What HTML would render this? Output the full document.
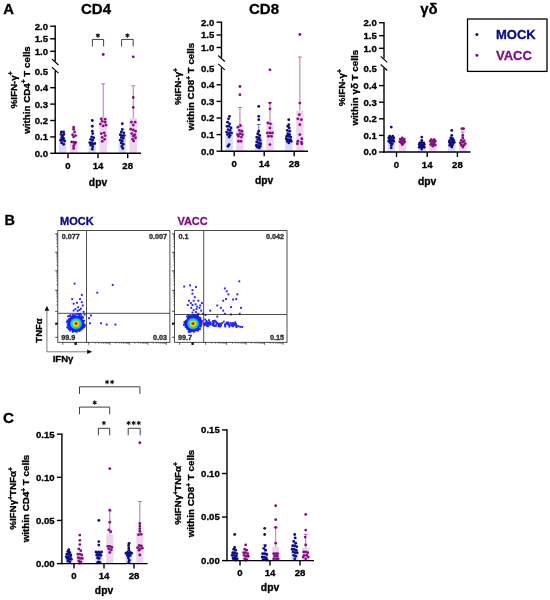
<!DOCTYPE html>
<html lang="en">
<head>
<meta charset="utf-8">
<title>Figure</title>
<style>
html,body{margin:0;padding:0;background:#fff;}
body{width:550px;height:600px;overflow:hidden;font-family:"Liberation Sans",sans-serif;}
svg{display:block;will-change:transform;}
svg text{font-family:"Liberation Sans",sans-serif;font-weight:bold;stroke-width:0.32px;stroke-linejoin:round;}
</style>
</head>
<body>
<svg width="550" height="600" viewBox="0 0 550 600">
<rect x="0" y="0" width="550" height="600" fill="#ffffff"/>
<rect x="59.00" y="139.36" width="7.20" height="13.94" fill="#dadaf5"/>
<circle cx="61.40" cy="131.98" r="1.42" fill="#0b0b84"/>
<circle cx="63.60" cy="131.98" r="1.42" fill="#0b0b84"/>
<circle cx="61.10" cy="134.44" r="1.42" fill="#0b0b84"/>
<circle cx="63.90" cy="134.44" r="1.42" fill="#0b0b84"/>
<circle cx="62.60" cy="136.08" r="1.42" fill="#0b0b84"/>
<circle cx="61.60" cy="137.72" r="1.42" fill="#0b0b84"/>
<circle cx="63.60" cy="138.54" r="1.42" fill="#0b0b84"/>
<circle cx="60.60" cy="140.18" r="1.42" fill="#0b0b84"/>
<circle cx="62.60" cy="140.18" r="1.42" fill="#0b0b84"/>
<circle cx="64.60" cy="141.00" r="1.42" fill="#0b0b84"/>
<circle cx="61.60" cy="142.64" r="1.42" fill="#0b0b84"/>
<circle cx="63.60" cy="144.28" r="1.42" fill="#0b0b84"/>
<rect x="70.00" y="141.00" width="7.30" height="12.30" fill="#edd6ed"/>
<circle cx="73.65" cy="127.06" r="1.42" fill="#860d86"/>
<circle cx="73.65" cy="129.19" r="1.42" fill="#860d86"/>
<circle cx="74.65" cy="131.98" r="1.42" fill="#860d86"/>
<circle cx="72.65" cy="134.77" r="1.42" fill="#860d86"/>
<circle cx="75.65" cy="135.59" r="1.42" fill="#860d86"/>
<circle cx="73.65" cy="136.90" r="1.42" fill="#860d86"/>
<circle cx="71.65" cy="141.82" r="1.42" fill="#860d86"/>
<circle cx="73.65" cy="142.15" r="1.42" fill="#860d86"/>
<circle cx="75.65" cy="142.48" r="1.42" fill="#860d86"/>
<circle cx="74.65" cy="143.79" r="1.42" fill="#860d86"/>
<circle cx="73.65" cy="145.92" r="1.42" fill="#860d86"/>
<circle cx="73.65" cy="148.38" r="1.42" fill="#860d86"/>
<rect x="88.70" y="141.82" width="7.20" height="11.48" fill="#dadaf5"/>
<circle cx="92.30" cy="120.50" r="1.42" fill="#0b0b84"/>
<circle cx="92.30" cy="126.24" r="1.42" fill="#0b0b84"/>
<circle cx="92.30" cy="131.16" r="1.42" fill="#0b0b84"/>
<circle cx="92.70" cy="133.62" r="1.42" fill="#0b0b84"/>
<circle cx="91.70" cy="136.90" r="1.42" fill="#0b0b84"/>
<circle cx="93.70" cy="137.72" r="1.42" fill="#0b0b84"/>
<circle cx="90.70" cy="139.36" r="1.42" fill="#0b0b84"/>
<circle cx="92.70" cy="140.18" r="1.42" fill="#0b0b84"/>
<circle cx="89.80" cy="142.64" r="1.42" fill="#0b0b84"/>
<circle cx="91.70" cy="142.64" r="1.42" fill="#0b0b84"/>
<circle cx="94.70" cy="143.46" r="1.42" fill="#0b0b84"/>
<circle cx="92.70" cy="144.28" r="1.42" fill="#0b0b84"/>
<circle cx="90.70" cy="145.10" r="1.42" fill="#0b0b84"/>
<circle cx="92.70" cy="146.74" r="1.42" fill="#0b0b84"/>
<circle cx="92.30" cy="149.20" r="1.42" fill="#0b0b84"/>
<rect x="99.50" y="118.04" width="7.40" height="35.26" fill="#edd6ed"/>
<line x1="103.20" y1="118.04" x2="103.20" y2="83.80" stroke="#a650a6" stroke-width="0.8" />
<line x1="101.20" y1="83.80" x2="105.20" y2="83.80" stroke="#a650a6" stroke-width="0.8" />
<circle cx="101.30" cy="118.86" r="1.42" fill="#860d86"/>
<circle cx="105.10" cy="119.19" r="1.42" fill="#860d86"/>
<circle cx="102.20" cy="121.32" r="1.42" fill="#860d86"/>
<circle cx="105.10" cy="122.14" r="1.42" fill="#860d86"/>
<circle cx="100.30" cy="124.11" r="1.42" fill="#860d86"/>
<circle cx="103.20" cy="125.91" r="1.42" fill="#860d86"/>
<circle cx="106.10" cy="125.09" r="1.42" fill="#860d86"/>
<circle cx="101.30" cy="133.62" r="1.42" fill="#860d86"/>
<circle cx="104.20" cy="132.80" r="1.42" fill="#860d86"/>
<circle cx="105.10" cy="135.59" r="1.42" fill="#860d86"/>
<circle cx="102.20" cy="137.39" r="1.42" fill="#860d86"/>
<circle cx="104.60" cy="139.36" r="1.42" fill="#860d86"/>
<circle cx="102.20" cy="141.33" r="1.42" fill="#860d86"/>
<circle cx="103.20" cy="54.50" r="1.42" fill="#860d86"/>
<rect x="118.70" y="138.54" width="7.20" height="14.76" fill="#dadaf5"/>
<circle cx="122.30" cy="123.78" r="1.42" fill="#0b0b84"/>
<circle cx="122.30" cy="129.52" r="1.42" fill="#0b0b84"/>
<circle cx="121.30" cy="131.98" r="1.42" fill="#0b0b84"/>
<circle cx="123.80" cy="132.80" r="1.42" fill="#0b0b84"/>
<circle cx="120.30" cy="134.77" r="1.42" fill="#0b0b84"/>
<circle cx="122.30" cy="135.59" r="1.42" fill="#0b0b84"/>
<circle cx="124.30" cy="135.59" r="1.42" fill="#0b0b84"/>
<circle cx="121.30" cy="137.39" r="1.42" fill="#0b0b84"/>
<circle cx="123.30" cy="138.21" r="1.42" fill="#0b0b84"/>
<circle cx="120.30" cy="140.18" r="1.42" fill="#0b0b84"/>
<circle cx="122.30" cy="141.00" r="1.42" fill="#0b0b84"/>
<circle cx="121.30" cy="142.97" r="1.42" fill="#0b0b84"/>
<circle cx="123.30" cy="144.28" r="1.42" fill="#0b0b84"/>
<circle cx="121.80" cy="146.41" r="1.42" fill="#0b0b84"/>
<circle cx="122.80" cy="148.38" r="1.42" fill="#0b0b84"/>
<rect x="129.50" y="118.04" width="7.50" height="35.26" fill="#edd6ed"/>
<line x1="133.25" y1="118.04" x2="133.25" y2="85.80" stroke="#a650a6" stroke-width="0.8" />
<line x1="131.25" y1="85.80" x2="135.25" y2="85.80" stroke="#a650a6" stroke-width="0.8" />
<circle cx="133.25" cy="97.54" r="1.42" fill="#860d86"/>
<circle cx="133.25" cy="107.38" r="1.42" fill="#860d86"/>
<circle cx="131.35" cy="122.14" r="1.42" fill="#860d86"/>
<circle cx="135.15" cy="122.14" r="1.42" fill="#860d86"/>
<circle cx="133.25" cy="125.09" r="1.42" fill="#860d86"/>
<circle cx="130.75" cy="129.19" r="1.42" fill="#860d86"/>
<circle cx="133.25" cy="130.01" r="1.42" fill="#860d86"/>
<circle cx="135.55" cy="131.16" r="1.42" fill="#860d86"/>
<circle cx="131.75" cy="133.62" r="1.42" fill="#860d86"/>
<circle cx="134.65" cy="134.77" r="1.42" fill="#860d86"/>
<circle cx="133.25" cy="136.08" r="1.42" fill="#860d86"/>
<circle cx="135.55" cy="137.72" r="1.42" fill="#860d86"/>
<circle cx="132.65" cy="139.36" r="1.42" fill="#860d86"/>
<circle cx="133.65" cy="141.00" r="1.42" fill="#860d86"/>
<circle cx="133.25" cy="56.80" r="1.42" fill="#860d86"/>
<line x1="55.20" y1="154.00" x2="55.20" y2="70.80" stroke="#000" stroke-width="1.4" />
<line x1="55.20" y1="61.20" x2="55.20" y2="25.50" stroke="#000" stroke-width="1.4" />
<line x1="51.90" y1="59.00" x2="58.50" y2="65.00" stroke="#000" stroke-width="1.1" />
<line x1="51.90" y1="67.20" x2="58.50" y2="73.20" stroke="#000" stroke-width="1.1" />
<line x1="54.50" y1="153.30" x2="141.00" y2="153.30" stroke="#000" stroke-width="1.4" />
<line x1="50.20" y1="153.30" x2="55.20" y2="153.30" stroke="#000" stroke-width="1.4" />
<text x="48.00" y="156.70" font-size="9.6" text-anchor="end" fill="#000" stroke="#000" >0.0</text>
<line x1="50.20" y1="136.90" x2="55.20" y2="136.90" stroke="#000" stroke-width="1.4" />
<text x="48.00" y="140.30" font-size="9.6" text-anchor="end" fill="#000" stroke="#000" >0.1</text>
<line x1="50.20" y1="120.50" x2="55.20" y2="120.50" stroke="#000" stroke-width="1.4" />
<text x="48.00" y="123.90" font-size="9.6" text-anchor="end" fill="#000" stroke="#000" >0.2</text>
<line x1="50.20" y1="104.10" x2="55.20" y2="104.10" stroke="#000" stroke-width="1.4" />
<text x="48.00" y="107.50" font-size="9.6" text-anchor="end" fill="#000" stroke="#000" >0.3</text>
<line x1="50.20" y1="87.70" x2="55.20" y2="87.70" stroke="#000" stroke-width="1.4" />
<text x="48.00" y="91.10" font-size="9.6" text-anchor="end" fill="#000" stroke="#000" >0.4</text>
<text x="48.00" y="74.70" font-size="9.6" text-anchor="end" fill="#000" stroke="#000" >0.5</text>
<line x1="50.20" y1="26.20" x2="55.20" y2="26.20" stroke="#000" stroke-width="1.4" />
<text x="48.00" y="29.60" font-size="9.6" text-anchor="end" fill="#000" stroke="#000" >2.0</text>
<line x1="50.20" y1="38.80" x2="55.20" y2="38.80" stroke="#000" stroke-width="1.4" />
<text x="48.00" y="42.20" font-size="9.6" text-anchor="end" fill="#000" stroke="#000" >1.5</text>
<line x1="50.20" y1="51.30" x2="55.20" y2="51.30" stroke="#000" stroke-width="1.4" />
<text x="48.00" y="54.70" font-size="9.6" text-anchor="end" fill="#000" stroke="#000" >1.0</text>
<line x1="68.00" y1="153.30" x2="68.00" y2="158.30" stroke="#000" stroke-width="1.4" />
<text x="68.00" y="169.20" font-size="9.6" text-anchor="middle" fill="#000" stroke="#000" >0</text>
<line x1="98.00" y1="153.30" x2="98.00" y2="158.30" stroke="#000" stroke-width="1.4" />
<text x="98.00" y="169.20" font-size="9.6" text-anchor="middle" fill="#000" stroke="#000" >14</text>
<line x1="127.70" y1="153.30" x2="127.70" y2="158.30" stroke="#000" stroke-width="1.4" />
<text x="127.70" y="169.20" font-size="9.6" text-anchor="middle" fill="#000" stroke="#000" >28</text>
<text x="98.00" y="186.10" font-size="10.3" text-anchor="middle" fill="#000" stroke="#000" >dpv</text>
<text x="96.00" y="13.60" font-size="15" text-anchor="middle" fill="#000" stroke="#000" >CD4</text>
<text transform="translate(16.50,90.00) rotate(-90)" font-size="9.8" text-anchor="middle" stroke="#000">%IFN-&#947;<tspan font-size="6.5" dy="-3.4">+</tspan></text>
<text transform="translate(29.50,90.00) rotate(-90)" font-size="9.8" text-anchor="middle" stroke="#000">within CD4<tspan font-size="6.5" dy="-3.4">+</tspan><tspan dy="3.4"> T cells</tspan></text>
<path d="M92.40,46.50 V39.40 H103.60 V46.50" fill="none" stroke="#2a2a2a" stroke-width="0.9"/>
<path d="M97.90,33.65L97.90,37.15M96.38,34.52L99.42,36.27M99.42,34.52L96.38,36.27" stroke="#111" stroke-width="1.05" stroke-linecap="round" fill="none"/>
<circle cx="97.90" cy="35.40" r="1.0" fill="#111"/>
<path d="M121.60,46.50 V39.40 H133.20 V46.50" fill="none" stroke="#2a2a2a" stroke-width="0.9"/>
<path d="M127.40,33.65L127.40,37.15M125.88,34.52L128.92,36.27M128.92,34.52L125.88,36.27" stroke="#111" stroke-width="1.05" stroke-linecap="round" fill="none"/>
<circle cx="127.40" cy="35.40" r="1.0" fill="#111"/>
<rect x="225.30" y="132.11" width="7.50" height="19.09" fill="#dadaf5"/>
<circle cx="229.55" cy="116.34" r="1.42" fill="#0b0b84"/>
<circle cx="228.55" cy="118.83" r="1.42" fill="#0b0b84"/>
<circle cx="227.55" cy="122.15" r="1.42" fill="#0b0b84"/>
<circle cx="229.55" cy="123.81" r="1.42" fill="#0b0b84"/>
<circle cx="227.05" cy="126.30" r="1.42" fill="#0b0b84"/>
<circle cx="229.05" cy="126.30" r="1.42" fill="#0b0b84"/>
<circle cx="231.05" cy="127.96" r="1.42" fill="#0b0b84"/>
<circle cx="228.05" cy="129.62" r="1.42" fill="#0b0b84"/>
<circle cx="230.05" cy="130.45" r="1.42" fill="#0b0b84"/>
<circle cx="226.55" cy="132.11" r="1.42" fill="#0b0b84"/>
<circle cx="229.05" cy="132.94" r="1.42" fill="#0b0b84"/>
<circle cx="231.55" cy="132.94" r="1.42" fill="#0b0b84"/>
<circle cx="227.55" cy="134.60" r="1.42" fill="#0b0b84"/>
<circle cx="230.05" cy="135.43" r="1.42" fill="#0b0b84"/>
<circle cx="229.05" cy="137.09" r="1.42" fill="#0b0b84"/>
<circle cx="229.05" cy="144.56" r="1.42" fill="#0b0b84"/>
<circle cx="228.05" cy="146.22" r="1.42" fill="#0b0b84"/>
<rect x="236.20" y="125.47" width="7.50" height="25.73" fill="#edd6ed"/>
<line x1="239.95" y1="125.47" x2="239.95" y2="107.50" stroke="#a650a6" stroke-width="0.8" />
<line x1="237.95" y1="107.50" x2="241.95" y2="107.50" stroke="#a650a6" stroke-width="0.8" />
<circle cx="239.95" cy="86.46" r="1.42" fill="#860d86"/>
<circle cx="239.95" cy="94.76" r="1.42" fill="#860d86"/>
<circle cx="240.45" cy="125.47" r="1.42" fill="#860d86"/>
<circle cx="237.95" cy="127.13" r="1.42" fill="#860d86"/>
<circle cx="239.45" cy="130.45" r="1.42" fill="#860d86"/>
<circle cx="241.95" cy="131.28" r="1.42" fill="#860d86"/>
<circle cx="237.45" cy="134.60" r="1.42" fill="#860d86"/>
<circle cx="239.95" cy="133.77" r="1.42" fill="#860d86"/>
<circle cx="242.45" cy="134.60" r="1.42" fill="#860d86"/>
<circle cx="238.45" cy="136.26" r="1.42" fill="#860d86"/>
<circle cx="241.45" cy="137.09" r="1.42" fill="#860d86"/>
<circle cx="238.45" cy="141.24" r="1.42" fill="#860d86"/>
<circle cx="240.95" cy="141.24" r="1.42" fill="#860d86"/>
<rect x="255.00" y="137.09" width="7.50" height="14.11" fill="#dadaf5"/>
<line x1="258.75" y1="137.09" x2="258.75" y2="124.50" stroke="#4a4aa8" stroke-width="0.8" />
<line x1="256.75" y1="124.50" x2="260.75" y2="124.50" stroke="#4a4aa8" stroke-width="0.8" />
<circle cx="258.75" cy="106.38" r="1.42" fill="#0b0b84"/>
<circle cx="258.75" cy="116.34" r="1.42" fill="#0b0b84"/>
<circle cx="258.75" cy="119.66" r="1.42" fill="#0b0b84"/>
<circle cx="258.75" cy="131.28" r="1.42" fill="#0b0b84"/>
<circle cx="257.75" cy="133.77" r="1.42" fill="#0b0b84"/>
<circle cx="259.75" cy="135.43" r="1.42" fill="#0b0b84"/>
<circle cx="256.75" cy="137.09" r="1.42" fill="#0b0b84"/>
<circle cx="259.25" cy="137.92" r="1.42" fill="#0b0b84"/>
<circle cx="257.75" cy="139.58" r="1.42" fill="#0b0b84"/>
<circle cx="260.25" cy="140.41" r="1.42" fill="#0b0b84"/>
<circle cx="256.75" cy="142.07" r="1.42" fill="#0b0b84"/>
<circle cx="258.75" cy="142.90" r="1.42" fill="#0b0b84"/>
<circle cx="260.75" cy="143.73" r="1.42" fill="#0b0b84"/>
<circle cx="256.25" cy="145.39" r="1.42" fill="#0b0b84"/>
<circle cx="258.25" cy="145.39" r="1.42" fill="#0b0b84"/>
<circle cx="260.25" cy="146.22" r="1.42" fill="#0b0b84"/>
<circle cx="257.25" cy="147.05" r="1.42" fill="#0b0b84"/>
<circle cx="259.25" cy="147.88" r="1.42" fill="#0b0b84"/>
<rect x="266.20" y="122.98" width="7.50" height="28.22" fill="#edd6ed"/>
<line x1="269.95" y1="122.98" x2="269.95" y2="102.50" stroke="#a650a6" stroke-width="0.8" />
<line x1="267.95" y1="102.50" x2="271.95" y2="102.50" stroke="#a650a6" stroke-width="0.8" />
<circle cx="269.95" cy="69.86" r="1.42" fill="#860d86"/>
<circle cx="269.95" cy="103.06" r="1.42" fill="#860d86"/>
<circle cx="269.95" cy="108.87" r="1.42" fill="#860d86"/>
<circle cx="267.95" cy="122.98" r="1.42" fill="#860d86"/>
<circle cx="270.45" cy="123.81" r="1.42" fill="#860d86"/>
<circle cx="269.95" cy="127.96" r="1.42" fill="#860d86"/>
<circle cx="267.45" cy="132.94" r="1.42" fill="#860d86"/>
<circle cx="269.95" cy="132.94" r="1.42" fill="#860d86"/>
<circle cx="272.45" cy="132.94" r="1.42" fill="#860d86"/>
<circle cx="268.45" cy="136.26" r="1.42" fill="#860d86"/>
<circle cx="271.45" cy="136.26" r="1.42" fill="#860d86"/>
<circle cx="269.95" cy="144.56" r="1.42" fill="#860d86"/>
<rect x="285.00" y="137.09" width="7.50" height="14.11" fill="#dadaf5"/>
<circle cx="288.75" cy="119.66" r="1.42" fill="#0b0b84"/>
<circle cx="288.75" cy="124.64" r="1.42" fill="#0b0b84"/>
<circle cx="287.75" cy="126.30" r="1.42" fill="#0b0b84"/>
<circle cx="289.25" cy="127.96" r="1.42" fill="#0b0b84"/>
<circle cx="287.25" cy="130.45" r="1.42" fill="#0b0b84"/>
<circle cx="289.75" cy="131.28" r="1.42" fill="#0b0b84"/>
<circle cx="287.75" cy="133.77" r="1.42" fill="#0b0b84"/>
<circle cx="289.75" cy="134.60" r="1.42" fill="#0b0b84"/>
<circle cx="286.75" cy="136.26" r="1.42" fill="#0b0b84"/>
<circle cx="288.75" cy="136.26" r="1.42" fill="#0b0b84"/>
<circle cx="290.75" cy="137.09" r="1.42" fill="#0b0b84"/>
<circle cx="286.25" cy="138.75" r="1.42" fill="#0b0b84"/>
<circle cx="288.25" cy="139.58" r="1.42" fill="#0b0b84"/>
<circle cx="290.25" cy="139.58" r="1.42" fill="#0b0b84"/>
<circle cx="287.25" cy="141.24" r="1.42" fill="#0b0b84"/>
<circle cx="289.25" cy="141.24" r="1.42" fill="#0b0b84"/>
<circle cx="291.25" cy="141.24" r="1.42" fill="#0b0b84"/>
<circle cx="288.75" cy="142.90" r="1.42" fill="#0b0b84"/>
<rect x="296.20" y="110.53" width="7.30" height="40.67" fill="#edd6ed"/>
<line x1="299.85" y1="110.53" x2="299.85" y2="57.00" stroke="#a650a6" stroke-width="0.8" />
<line x1="297.85" y1="57.00" x2="301.85" y2="57.00" stroke="#a650a6" stroke-width="0.8" />
<circle cx="299.85" cy="103.06" r="1.42" fill="#860d86"/>
<circle cx="299.35" cy="114.68" r="1.42" fill="#860d86"/>
<circle cx="297.85" cy="118.83" r="1.42" fill="#860d86"/>
<circle cx="301.35" cy="119.66" r="1.42" fill="#860d86"/>
<circle cx="299.85" cy="124.64" r="1.42" fill="#860d86"/>
<circle cx="299.85" cy="134.60" r="1.42" fill="#860d86"/>
<circle cx="301.85" cy="138.75" r="1.42" fill="#860d86"/>
<circle cx="297.85" cy="141.24" r="1.42" fill="#860d86"/>
<circle cx="301.35" cy="142.07" r="1.42" fill="#860d86"/>
<circle cx="297.35" cy="143.73" r="1.42" fill="#860d86"/>
<circle cx="301.85" cy="143.73" r="1.42" fill="#860d86"/>
<circle cx="299.85" cy="34.50" r="1.42" fill="#860d86"/>
<line x1="221.50" y1="151.90" x2="221.50" y2="67.50" stroke="#000" stroke-width="1.4" />
<line x1="221.50" y1="57.70" x2="221.50" y2="21.50" stroke="#000" stroke-width="1.4" />
<line x1="218.20" y1="55.50" x2="224.80" y2="61.50" stroke="#000" stroke-width="1.1" />
<line x1="218.20" y1="63.90" x2="224.80" y2="69.90" stroke="#000" stroke-width="1.1" />
<line x1="220.80" y1="151.20" x2="308.00" y2="151.20" stroke="#000" stroke-width="1.4" />
<line x1="216.50" y1="151.20" x2="221.50" y2="151.20" stroke="#000" stroke-width="1.4" />
<text x="214.30" y="154.60" font-size="9.6" text-anchor="end" fill="#000" stroke="#000" >0.0</text>
<line x1="216.50" y1="134.60" x2="221.50" y2="134.60" stroke="#000" stroke-width="1.4" />
<text x="214.30" y="138.00" font-size="9.6" text-anchor="end" fill="#000" stroke="#000" >0.1</text>
<line x1="216.50" y1="118.00" x2="221.50" y2="118.00" stroke="#000" stroke-width="1.4" />
<text x="214.30" y="121.40" font-size="9.6" text-anchor="end" fill="#000" stroke="#000" >0.2</text>
<line x1="216.50" y1="101.40" x2="221.50" y2="101.40" stroke="#000" stroke-width="1.4" />
<text x="214.30" y="104.80" font-size="9.6" text-anchor="end" fill="#000" stroke="#000" >0.3</text>
<line x1="216.50" y1="84.80" x2="221.50" y2="84.80" stroke="#000" stroke-width="1.4" />
<text x="214.30" y="88.20" font-size="9.6" text-anchor="end" fill="#000" stroke="#000" >0.4</text>
<text x="214.30" y="71.60" font-size="9.6" text-anchor="end" fill="#000" stroke="#000" >0.5</text>
<line x1="216.50" y1="22.20" x2="221.50" y2="22.20" stroke="#000" stroke-width="1.4" />
<text x="214.30" y="25.60" font-size="9.6" text-anchor="end" fill="#000" stroke="#000" >2.0</text>
<line x1="216.50" y1="35.00" x2="221.50" y2="35.00" stroke="#000" stroke-width="1.4" />
<text x="214.30" y="38.40" font-size="9.6" text-anchor="end" fill="#000" stroke="#000" >1.5</text>
<line x1="216.50" y1="47.50" x2="221.50" y2="47.50" stroke="#000" stroke-width="1.4" />
<text x="214.30" y="50.90" font-size="9.6" text-anchor="end" fill="#000" stroke="#000" >1.0</text>
<line x1="234.20" y1="151.20" x2="234.20" y2="156.20" stroke="#000" stroke-width="1.4" />
<text x="234.20" y="167.10" font-size="9.6" text-anchor="middle" fill="#000" stroke="#000" >0</text>
<line x1="264.20" y1="151.20" x2="264.20" y2="156.20" stroke="#000" stroke-width="1.4" />
<text x="264.20" y="167.10" font-size="9.6" text-anchor="middle" fill="#000" stroke="#000" >14</text>
<line x1="294.20" y1="151.20" x2="294.20" y2="156.20" stroke="#000" stroke-width="1.4" />
<text x="294.20" y="167.10" font-size="9.6" text-anchor="middle" fill="#000" stroke="#000" >28</text>
<text x="264.20" y="184.00" font-size="10.3" text-anchor="middle" fill="#000" stroke="#000" >dpv</text>
<text x="264.00" y="13.60" font-size="15" text-anchor="middle" fill="#000" stroke="#000" >CD8</text>
<text transform="translate(181.00,86.60) rotate(-90)" font-size="9.8" text-anchor="middle" stroke="#000">%IFN-&#947;<tspan font-size="6.5" dy="-3.4">+</tspan></text>
<text transform="translate(194.40,86.60) rotate(-90)" font-size="9.8" text-anchor="middle" stroke="#000">within CD8<tspan font-size="6.5" dy="-3.4">+</tspan><tspan dy="3.4"> T cells</tspan></text>
<rect x="387.50" y="139.55" width="7.50" height="12.45" fill="#dadaf5"/>
<circle cx="391.25" cy="127.10" r="1.42" fill="#0b0b84"/>
<circle cx="389.75" cy="136.23" r="1.42" fill="#0b0b84"/>
<circle cx="392.75" cy="136.23" r="1.42" fill="#0b0b84"/>
<circle cx="388.75" cy="137.89" r="1.42" fill="#0b0b84"/>
<circle cx="391.25" cy="137.89" r="1.42" fill="#0b0b84"/>
<circle cx="393.75" cy="137.89" r="1.42" fill="#0b0b84"/>
<circle cx="389.75" cy="139.55" r="1.42" fill="#0b0b84"/>
<circle cx="392.75" cy="139.55" r="1.42" fill="#0b0b84"/>
<circle cx="388.75" cy="141.21" r="1.42" fill="#0b0b84"/>
<circle cx="391.25" cy="141.21" r="1.42" fill="#0b0b84"/>
<circle cx="393.75" cy="141.21" r="1.42" fill="#0b0b84"/>
<circle cx="390.25" cy="142.87" r="1.42" fill="#0b0b84"/>
<circle cx="392.25" cy="143.70" r="1.42" fill="#0b0b84"/>
<circle cx="391.25" cy="145.36" r="1.42" fill="#0b0b84"/>
<circle cx="391.25" cy="147.85" r="1.42" fill="#0b0b84"/>
<rect x="398.50" y="141.21" width="7.50" height="10.79" fill="#edd6ed"/>
<circle cx="402.25" cy="137.89" r="1.42" fill="#860d86"/>
<circle cx="400.25" cy="139.05" r="1.42" fill="#860d86"/>
<circle cx="404.25" cy="139.05" r="1.42" fill="#860d86"/>
<circle cx="401.25" cy="140.38" r="1.42" fill="#860d86"/>
<circle cx="403.25" cy="140.38" r="1.42" fill="#860d86"/>
<circle cx="399.75" cy="141.71" r="1.42" fill="#860d86"/>
<circle cx="402.25" cy="141.71" r="1.42" fill="#860d86"/>
<circle cx="404.75" cy="141.71" r="1.42" fill="#860d86"/>
<circle cx="401.25" cy="142.87" r="1.42" fill="#860d86"/>
<circle cx="403.25" cy="143.37" r="1.42" fill="#860d86"/>
<circle cx="402.25" cy="144.53" r="1.42" fill="#860d86"/>
<rect x="418.00" y="145.36" width="7.50" height="6.64" fill="#dadaf5"/>
<circle cx="421.75" cy="137.06" r="1.42" fill="#0b0b84"/>
<circle cx="421.75" cy="140.38" r="1.42" fill="#0b0b84"/>
<circle cx="419.75" cy="142.87" r="1.42" fill="#0b0b84"/>
<circle cx="421.75" cy="142.37" r="1.42" fill="#0b0b84"/>
<circle cx="423.75" cy="142.87" r="1.42" fill="#0b0b84"/>
<circle cx="419.25" cy="144.53" r="1.42" fill="#0b0b84"/>
<circle cx="421.75" cy="144.53" r="1.42" fill="#0b0b84"/>
<circle cx="424.25" cy="144.53" r="1.42" fill="#0b0b84"/>
<circle cx="420.25" cy="146.19" r="1.42" fill="#0b0b84"/>
<circle cx="423.25" cy="146.19" r="1.42" fill="#0b0b84"/>
<circle cx="419.25" cy="147.35" r="1.42" fill="#0b0b84"/>
<circle cx="421.75" cy="147.35" r="1.42" fill="#0b0b84"/>
<circle cx="424.25" cy="147.35" r="1.42" fill="#0b0b84"/>
<circle cx="421.75" cy="149.01" r="1.42" fill="#0b0b84"/>
<rect x="429.00" y="143.70" width="7.50" height="8.30" fill="#edd6ed"/>
<circle cx="431.25" cy="139.55" r="1.42" fill="#860d86"/>
<circle cx="434.25" cy="139.55" r="1.42" fill="#860d86"/>
<circle cx="430.25" cy="141.21" r="1.42" fill="#860d86"/>
<circle cx="432.75" cy="140.71" r="1.42" fill="#860d86"/>
<circle cx="435.25" cy="141.21" r="1.42" fill="#860d86"/>
<circle cx="431.75" cy="142.87" r="1.42" fill="#860d86"/>
<circle cx="434.25" cy="142.87" r="1.42" fill="#860d86"/>
<circle cx="430.75" cy="144.53" r="1.42" fill="#860d86"/>
<circle cx="433.25" cy="144.53" r="1.42" fill="#860d86"/>
<circle cx="435.25" cy="145.03" r="1.42" fill="#860d86"/>
<circle cx="432.75" cy="146.19" r="1.42" fill="#860d86"/>
<rect x="448.00" y="142.04" width="7.50" height="9.96" fill="#dadaf5"/>
<circle cx="451.75" cy="130.42" r="1.42" fill="#0b0b84"/>
<circle cx="451.75" cy="135.40" r="1.42" fill="#0b0b84"/>
<circle cx="450.75" cy="137.89" r="1.42" fill="#0b0b84"/>
<circle cx="452.75" cy="138.72" r="1.42" fill="#0b0b84"/>
<circle cx="449.75" cy="140.38" r="1.42" fill="#0b0b84"/>
<circle cx="451.75" cy="140.38" r="1.42" fill="#0b0b84"/>
<circle cx="453.75" cy="140.38" r="1.42" fill="#0b0b84"/>
<circle cx="449.25" cy="142.04" r="1.42" fill="#0b0b84"/>
<circle cx="451.75" cy="142.04" r="1.42" fill="#0b0b84"/>
<circle cx="454.25" cy="142.37" r="1.42" fill="#0b0b84"/>
<circle cx="450.25" cy="143.70" r="1.42" fill="#0b0b84"/>
<circle cx="452.75" cy="143.70" r="1.42" fill="#0b0b84"/>
<circle cx="449.75" cy="145.36" r="1.42" fill="#0b0b84"/>
<circle cx="452.25" cy="145.36" r="1.42" fill="#0b0b84"/>
<circle cx="451.75" cy="147.02" r="1.42" fill="#0b0b84"/>
<rect x="459.00" y="142.04" width="7.50" height="9.96" fill="#edd6ed"/>
<line x1="462.75" y1="142.04" x2="462.75" y2="132.00" stroke="#a650a6" stroke-width="0.8" />
<line x1="460.75" y1="132.00" x2="464.75" y2="132.00" stroke="#a650a6" stroke-width="0.8" />
<circle cx="461.95" cy="128.76" r="1.42" fill="#860d86"/>
<circle cx="463.55" cy="128.76" r="1.42" fill="#860d86"/>
<circle cx="462.75" cy="135.40" r="1.42" fill="#860d86"/>
<circle cx="462.75" cy="137.89" r="1.42" fill="#860d86"/>
<circle cx="461.25" cy="140.38" r="1.42" fill="#860d86"/>
<circle cx="464.25" cy="140.71" r="1.42" fill="#860d86"/>
<circle cx="460.25" cy="142.87" r="1.42" fill="#860d86"/>
<circle cx="462.75" cy="142.37" r="1.42" fill="#860d86"/>
<circle cx="465.25" cy="143.70" r="1.42" fill="#860d86"/>
<circle cx="461.25" cy="145.03" r="1.42" fill="#860d86"/>
<circle cx="463.75" cy="145.36" r="1.42" fill="#860d86"/>
<circle cx="462.75" cy="147.02" r="1.42" fill="#860d86"/>
<line x1="384.00" y1="152.70" x2="384.00" y2="68.10" stroke="#000" stroke-width="1.4" />
<line x1="384.00" y1="58.50" x2="384.00" y2="22.00" stroke="#000" stroke-width="1.4" />
<line x1="380.70" y1="56.30" x2="387.30" y2="62.30" stroke="#000" stroke-width="1.1" />
<line x1="380.70" y1="64.50" x2="387.30" y2="70.50" stroke="#000" stroke-width="1.1" />
<line x1="383.30" y1="152.00" x2="470.50" y2="152.00" stroke="#000" stroke-width="1.4" />
<line x1="379.00" y1="152.00" x2="384.00" y2="152.00" stroke="#000" stroke-width="1.4" />
<text x="376.80" y="155.40" font-size="9.6" text-anchor="end" fill="#000" stroke="#000" >0.0</text>
<line x1="379.00" y1="135.40" x2="384.00" y2="135.40" stroke="#000" stroke-width="1.4" />
<text x="376.80" y="138.80" font-size="9.6" text-anchor="end" fill="#000" stroke="#000" >0.1</text>
<line x1="379.00" y1="118.80" x2="384.00" y2="118.80" stroke="#000" stroke-width="1.4" />
<text x="376.80" y="122.20" font-size="9.6" text-anchor="end" fill="#000" stroke="#000" >0.2</text>
<line x1="379.00" y1="102.20" x2="384.00" y2="102.20" stroke="#000" stroke-width="1.4" />
<text x="376.80" y="105.60" font-size="9.6" text-anchor="end" fill="#000" stroke="#000" >0.3</text>
<line x1="379.00" y1="85.60" x2="384.00" y2="85.60" stroke="#000" stroke-width="1.4" />
<text x="376.80" y="89.00" font-size="9.6" text-anchor="end" fill="#000" stroke="#000" >0.4</text>
<text x="376.80" y="72.40" font-size="9.6" text-anchor="end" fill="#000" stroke="#000" >0.5</text>
<line x1="379.00" y1="22.70" x2="384.00" y2="22.70" stroke="#000" stroke-width="1.4" />
<text x="376.80" y="26.10" font-size="9.6" text-anchor="end" fill="#000" stroke="#000" >2.0</text>
<line x1="379.00" y1="35.70" x2="384.00" y2="35.70" stroke="#000" stroke-width="1.4" />
<text x="376.80" y="39.10" font-size="9.6" text-anchor="end" fill="#000" stroke="#000" >1.5</text>
<line x1="379.00" y1="48.30" x2="384.00" y2="48.30" stroke="#000" stroke-width="1.4" />
<text x="376.80" y="51.70" font-size="9.6" text-anchor="end" fill="#000" stroke="#000" >1.0</text>
<line x1="396.50" y1="152.00" x2="396.50" y2="157.00" stroke="#000" stroke-width="1.4" />
<text x="396.50" y="167.90" font-size="9.6" text-anchor="middle" fill="#000" stroke="#000" >0</text>
<line x1="427.20" y1="152.00" x2="427.20" y2="157.00" stroke="#000" stroke-width="1.4" />
<text x="427.20" y="167.90" font-size="9.6" text-anchor="middle" fill="#000" stroke="#000" >14</text>
<line x1="457.40" y1="152.00" x2="457.40" y2="157.00" stroke="#000" stroke-width="1.4" />
<text x="457.40" y="167.90" font-size="9.6" text-anchor="middle" fill="#000" stroke="#000" >28</text>
<text x="427.20" y="184.80" font-size="10.3" text-anchor="middle" fill="#000" stroke="#000" >dpv</text>
<text x="429.00" y="13.60" font-size="15" text-anchor="middle" fill="#000" stroke="#000" >&#947;&#948;</text>
<text transform="translate(345.00,87.70) rotate(-90)" font-size="9.8" text-anchor="middle" stroke="#000">%IFN-&#947;<tspan font-size="6.5" dy="-3.4">+</tspan></text>
<text transform="translate(357.50,87.70) rotate(-90)" font-size="9.8" text-anchor="middle" stroke="#000">within &#947;&#948; T cells</text>
<text x="3.20" y="13.90" font-size="14.8" text-anchor="start" fill="#000" stroke="#000" >A</text>
<text x="4.40" y="225.20" font-size="14.4" text-anchor="start" fill="#000" stroke="#000" >B</text>
<text x="3.00" y="423.10" font-size="15.2" text-anchor="start" fill="#000" stroke="#000" >C</text>
<rect x="467.5" y="19" width="79.5" height="52.4" fill="#fff" stroke="#000" stroke-width="1.3"/>
<circle cx="476.90" cy="34.50" r="1.5" fill="#0b0b84"/>
<circle cx="476.90" cy="55.30" r="1.5" fill="#860d86"/>
<text x="496.00" y="39.10" font-size="13" text-anchor="start" fill="#0b0b84" stroke="#0b0b84" >MOCK</text>
<text x="496.00" y="59.90" font-size="13" text-anchor="start" fill="#860d86" stroke="#860d86" >VACC</text>
<rect x="65.30" y="556.70" width="7.00" height="6.90" fill="#dadaf5"/>
<circle cx="68.80" cy="549.79" r="1.42" fill="#0b0b84"/>
<circle cx="67.80" cy="551.52" r="1.42" fill="#0b0b84"/>
<circle cx="69.80" cy="552.38" r="1.42" fill="#0b0b84"/>
<circle cx="66.80" cy="554.11" r="1.42" fill="#0b0b84"/>
<circle cx="68.80" cy="554.11" r="1.42" fill="#0b0b84"/>
<circle cx="70.80" cy="554.97" r="1.42" fill="#0b0b84"/>
<circle cx="66.30" cy="556.70" r="1.42" fill="#0b0b84"/>
<circle cx="68.30" cy="556.70" r="1.42" fill="#0b0b84"/>
<circle cx="70.30" cy="556.70" r="1.42" fill="#0b0b84"/>
<circle cx="67.30" cy="558.42" r="1.42" fill="#0b0b84"/>
<circle cx="69.30" cy="559.28" r="1.42" fill="#0b0b84"/>
<circle cx="71.30" cy="559.28" r="1.42" fill="#0b0b84"/>
<circle cx="67.80" cy="561.01" r="1.42" fill="#0b0b84"/>
<circle cx="69.80" cy="561.87" r="1.42" fill="#0b0b84"/>
<rect x="76.30" y="554.11" width="7.00" height="9.49" fill="#edd6ed"/>
<circle cx="79.80" cy="535.12" r="1.42" fill="#860d86"/>
<circle cx="79.80" cy="540.30" r="1.42" fill="#860d86"/>
<circle cx="79.80" cy="544.61" r="1.42" fill="#860d86"/>
<circle cx="78.80" cy="548.93" r="1.42" fill="#860d86"/>
<circle cx="80.80" cy="550.65" r="1.42" fill="#860d86"/>
<circle cx="77.80" cy="554.11" r="1.42" fill="#860d86"/>
<circle cx="79.80" cy="554.11" r="1.42" fill="#860d86"/>
<circle cx="81.80" cy="554.97" r="1.42" fill="#860d86"/>
<circle cx="78.30" cy="557.56" r="1.42" fill="#860d86"/>
<circle cx="80.30" cy="558.42" r="1.42" fill="#860d86"/>
<circle cx="82.30" cy="558.42" r="1.42" fill="#860d86"/>
<circle cx="78.80" cy="561.01" r="1.42" fill="#860d86"/>
<circle cx="80.80" cy="561.87" r="1.42" fill="#860d86"/>
<circle cx="79.80" cy="563.17" r="1.42" fill="#860d86"/>
<rect x="95.30" y="552.38" width="7.00" height="11.22" fill="#dadaf5"/>
<circle cx="98.80" cy="520.45" r="1.42" fill="#0b0b84"/>
<circle cx="98.80" cy="541.59" r="1.42" fill="#0b0b84"/>
<circle cx="98.80" cy="545.05" r="1.42" fill="#0b0b84"/>
<circle cx="96.00" cy="551.95" r="1.42" fill="#0b0b84"/>
<circle cx="97.40" cy="552.81" r="1.42" fill="#0b0b84"/>
<circle cx="98.80" cy="551.95" r="1.42" fill="#0b0b84"/>
<circle cx="100.20" cy="552.81" r="1.42" fill="#0b0b84"/>
<circle cx="101.60" cy="551.95" r="1.42" fill="#0b0b84"/>
<circle cx="96.70" cy="554.97" r="1.42" fill="#0b0b84"/>
<circle cx="98.10" cy="555.40" r="1.42" fill="#0b0b84"/>
<circle cx="99.50" cy="554.97" r="1.42" fill="#0b0b84"/>
<circle cx="100.90" cy="555.40" r="1.42" fill="#0b0b84"/>
<circle cx="97.60" cy="557.99" r="1.42" fill="#0b0b84"/>
<circle cx="99.20" cy="558.42" r="1.42" fill="#0b0b84"/>
<circle cx="98.80" cy="561.87" r="1.42" fill="#0b0b84"/>
<circle cx="97.60" cy="562.74" r="1.42" fill="#0b0b84"/>
<circle cx="100.00" cy="562.74" r="1.42" fill="#0b0b84"/>
<rect x="106.30" y="534.26" width="7.00" height="29.34" fill="#edd6ed"/>
<line x1="109.80" y1="534.26" x2="109.80" y2="510.96" stroke="#a650a6" stroke-width="0.8" />
<line x1="107.80" y1="510.96" x2="111.80" y2="510.96" stroke="#a650a6" stroke-width="0.8" />
<circle cx="109.80" cy="468.67" r="1.42" fill="#860d86"/>
<circle cx="109.80" cy="510.09" r="1.42" fill="#860d86"/>
<circle cx="109.80" cy="522.18" r="1.42" fill="#860d86"/>
<circle cx="108.80" cy="529.94" r="1.42" fill="#860d86"/>
<circle cx="110.80" cy="531.67" r="1.42" fill="#860d86"/>
<circle cx="107.80" cy="546.34" r="1.42" fill="#860d86"/>
<circle cx="109.80" cy="546.34" r="1.42" fill="#860d86"/>
<circle cx="111.80" cy="547.20" r="1.42" fill="#860d86"/>
<circle cx="108.80" cy="548.93" r="1.42" fill="#860d86"/>
<circle cx="111.30" cy="549.79" r="1.42" fill="#860d86"/>
<circle cx="109.80" cy="552.38" r="1.42" fill="#860d86"/>
<rect x="125.30" y="554.11" width="7.00" height="9.49" fill="#dadaf5"/>
<circle cx="129.10" cy="543.32" r="1.42" fill="#0b0b84"/>
<circle cx="128.60" cy="545.48" r="1.42" fill="#0b0b84"/>
<circle cx="128.80" cy="548.07" r="1.42" fill="#0b0b84"/>
<circle cx="128.80" cy="550.22" r="1.42" fill="#0b0b84"/>
<circle cx="126.00" cy="553.24" r="1.42" fill="#0b0b84"/>
<circle cx="127.40" cy="552.38" r="1.42" fill="#0b0b84"/>
<circle cx="128.80" cy="553.24" r="1.42" fill="#0b0b84"/>
<circle cx="130.20" cy="552.38" r="1.42" fill="#0b0b84"/>
<circle cx="131.60" cy="553.24" r="1.42" fill="#0b0b84"/>
<circle cx="127.40" cy="555.40" r="1.42" fill="#0b0b84"/>
<circle cx="128.80" cy="555.83" r="1.42" fill="#0b0b84"/>
<circle cx="130.20" cy="555.40" r="1.42" fill="#0b0b84"/>
<circle cx="128.30" cy="557.99" r="1.42" fill="#0b0b84"/>
<circle cx="129.30" cy="560.15" r="1.42" fill="#0b0b84"/>
<circle cx="128.80" cy="562.31" r="1.42" fill="#0b0b84"/>
<rect x="136.30" y="532.96" width="7.00" height="30.64" fill="#edd6ed"/>
<line x1="139.80" y1="532.96" x2="139.80" y2="501.46" stroke="#a650a6" stroke-width="0.8" />
<line x1="137.80" y1="501.46" x2="141.80" y2="501.46" stroke="#a650a6" stroke-width="0.8" />
<circle cx="139.80" cy="442.78" r="1.42" fill="#860d86"/>
<circle cx="139.80" cy="523.47" r="1.42" fill="#860d86"/>
<circle cx="139.80" cy="526.06" r="1.42" fill="#860d86"/>
<circle cx="139.80" cy="528.65" r="1.42" fill="#860d86"/>
<circle cx="139.80" cy="531.24" r="1.42" fill="#860d86"/>
<circle cx="138.50" cy="534.69" r="1.42" fill="#860d86"/>
<circle cx="141.10" cy="534.26" r="1.42" fill="#860d86"/>
<circle cx="139.30" cy="545.48" r="1.42" fill="#860d86"/>
<circle cx="141.30" cy="545.91" r="1.42" fill="#860d86"/>
<circle cx="137.60" cy="547.63" r="1.42" fill="#860d86"/>
<circle cx="140.10" cy="548.93" r="1.42" fill="#860d86"/>
<circle cx="142.40" cy="548.07" r="1.42" fill="#860d86"/>
<circle cx="139.00" cy="550.22" r="1.42" fill="#860d86"/>
<circle cx="139.80" cy="554.97" r="1.42" fill="#860d86"/>
<line x1="61.90" y1="564.30" x2="61.90" y2="433.45" stroke="#000" stroke-width="1.4" />
<line x1="61.20" y1="563.60" x2="147.60" y2="563.60" stroke="#000" stroke-width="1.4" />
<line x1="56.90" y1="563.60" x2="61.90" y2="563.60" stroke="#000" stroke-width="1.4" />
<text x="54.70" y="567.00" font-size="9.6" text-anchor="end" fill="#000" stroke="#000" >0.00</text>
<line x1="56.90" y1="520.45" x2="61.90" y2="520.45" stroke="#000" stroke-width="1.4" />
<text x="54.70" y="523.85" font-size="9.6" text-anchor="end" fill="#000" stroke="#000" >0.05</text>
<line x1="56.90" y1="477.30" x2="61.90" y2="477.30" stroke="#000" stroke-width="1.4" />
<text x="54.70" y="480.70" font-size="9.6" text-anchor="end" fill="#000" stroke="#000" >0.10</text>
<line x1="56.90" y1="434.15" x2="61.90" y2="434.15" stroke="#000" stroke-width="1.4" />
<text x="54.70" y="437.55" font-size="9.6" text-anchor="end" fill="#000" stroke="#000" >0.15</text>
<line x1="74.00" y1="563.60" x2="74.00" y2="568.60" stroke="#000" stroke-width="1.4" />
<text x="74.00" y="578.70" font-size="9.6" text-anchor="middle" fill="#000" stroke="#000" >0</text>
<line x1="104.00" y1="563.60" x2="104.00" y2="568.60" stroke="#000" stroke-width="1.4" />
<text x="104.00" y="578.70" font-size="9.6" text-anchor="middle" fill="#000" stroke="#000" >14</text>
<line x1="134.00" y1="563.60" x2="134.00" y2="568.60" stroke="#000" stroke-width="1.4" />
<text x="134.00" y="578.70" font-size="9.6" text-anchor="middle" fill="#000" stroke="#000" >28</text>
<text x="104.00" y="594.30" font-size="10.3" text-anchor="middle" fill="#000" stroke="#000" >dpv</text>
<text transform="translate(16.10,498.50) rotate(-90)" font-size="9.8" text-anchor="middle" stroke="#000">%IFN&#947;<tspan font-size="6.5" dy="-3.4">+</tspan><tspan dy="3.4">TNF&#945;</tspan><tspan font-size="6.5" dy="-3.4">+</tspan></text>
<text transform="translate(29.40,498.50) rotate(-90)" font-size="9.8" text-anchor="middle" stroke="#000">within CD4<tspan font-size="6.5" dy="-3.4">+</tspan><tspan dy="3.4"> T cells</tspan></text>
<path d="M79.50,393.90 V386.80 H139.90 V393.90" fill="none" stroke="#2a2a2a" stroke-width="0.9"/>
<path d="M107.10,380.25L107.10,383.75M105.58,381.12L108.62,382.88M108.62,381.12L105.58,382.88" stroke="#111" stroke-width="1.05" stroke-linecap="round" fill="none"/>
<circle cx="107.10" cy="382.00" r="1.0" fill="#111"/>
<path d="M112.20,380.25L112.20,383.75M110.68,381.12L113.72,382.88M113.72,381.12L110.68,382.88" stroke="#111" stroke-width="1.05" stroke-linecap="round" fill="none"/>
<circle cx="112.20" cy="382.00" r="1.0" fill="#111"/>
<path d="M79.50,414.30 V407.10 H109.70 V414.30" fill="none" stroke="#2a2a2a" stroke-width="0.9"/>
<path d="M94.70,400.85L94.70,404.35M93.18,401.73L96.22,403.48M96.22,401.73L93.18,403.48" stroke="#111" stroke-width="1.05" stroke-linecap="round" fill="none"/>
<circle cx="94.70" cy="402.60" r="1.0" fill="#111"/>
<path d="M98.40,435.30 V428.30 H109.70 V435.30" fill="none" stroke="#2a2a2a" stroke-width="0.9"/>
<path d="M103.90,421.25L103.90,424.75M102.38,422.12L105.42,423.88M105.42,422.12L102.38,423.88" stroke="#111" stroke-width="1.05" stroke-linecap="round" fill="none"/>
<circle cx="103.90" cy="423.00" r="1.0" fill="#111"/>
<path d="M128.20,435.30 V428.30 H140.20 V435.30" fill="none" stroke="#2a2a2a" stroke-width="0.9"/>
<path d="M128.60,421.25L128.60,424.75M127.08,422.12L130.12,423.88M130.12,422.12L127.08,423.88" stroke="#111" stroke-width="1.05" stroke-linecap="round" fill="none"/>
<circle cx="128.60" cy="423.00" r="1.0" fill="#111"/>
<path d="M133.70,421.25L133.70,424.75M132.18,422.12L135.22,423.88M135.22,422.12L132.18,423.88" stroke="#111" stroke-width="1.05" stroke-linecap="round" fill="none"/>
<circle cx="133.70" cy="423.00" r="1.0" fill="#111"/>
<path d="M138.80,421.25L138.80,424.75M137.28,422.12L140.32,423.88M140.32,422.12L137.28,423.88" stroke="#111" stroke-width="1.05" stroke-linecap="round" fill="none"/>
<circle cx="138.80" cy="423.00" r="1.0" fill="#111"/>
<rect x="231.20" y="553.63" width="7.00" height="6.97" fill="#dadaf5"/>
<circle cx="234.70" cy="534.47" r="1.42" fill="#0b0b84"/>
<circle cx="234.70" cy="547.53" r="1.42" fill="#0b0b84"/>
<circle cx="233.70" cy="549.28" r="1.42" fill="#0b0b84"/>
<circle cx="235.70" cy="550.15" r="1.42" fill="#0b0b84"/>
<circle cx="232.70" cy="552.76" r="1.42" fill="#0b0b84"/>
<circle cx="234.70" cy="552.76" r="1.42" fill="#0b0b84"/>
<circle cx="236.70" cy="553.63" r="1.42" fill="#0b0b84"/>
<circle cx="232.20" cy="555.37" r="1.42" fill="#0b0b84"/>
<circle cx="234.20" cy="555.37" r="1.42" fill="#0b0b84"/>
<circle cx="236.20" cy="556.25" r="1.42" fill="#0b0b84"/>
<circle cx="233.20" cy="557.99" r="1.42" fill="#0b0b84"/>
<circle cx="235.20" cy="557.99" r="1.42" fill="#0b0b84"/>
<circle cx="237.20" cy="558.86" r="1.42" fill="#0b0b84"/>
<circle cx="233.70" cy="559.73" r="1.42" fill="#0b0b84"/>
<circle cx="235.70" cy="560.16" r="1.42" fill="#0b0b84"/>
<rect x="242.20" y="554.50" width="7.00" height="6.10" fill="#edd6ed"/>
<circle cx="245.70" cy="544.92" r="1.42" fill="#860d86"/>
<circle cx="244.70" cy="549.28" r="1.42" fill="#860d86"/>
<circle cx="246.70" cy="550.15" r="1.42" fill="#860d86"/>
<circle cx="243.70" cy="552.76" r="1.42" fill="#860d86"/>
<circle cx="245.70" cy="552.76" r="1.42" fill="#860d86"/>
<circle cx="247.70" cy="553.63" r="1.42" fill="#860d86"/>
<circle cx="244.20" cy="555.37" r="1.42" fill="#860d86"/>
<circle cx="246.20" cy="556.25" r="1.42" fill="#860d86"/>
<circle cx="248.20" cy="556.25" r="1.42" fill="#860d86"/>
<circle cx="244.70" cy="558.86" r="1.42" fill="#860d86"/>
<circle cx="246.70" cy="559.73" r="1.42" fill="#860d86"/>
<circle cx="245.70" cy="560.34" r="1.42" fill="#860d86"/>
<rect x="261.20" y="551.89" width="7.00" height="8.71" fill="#dadaf5"/>
<line x1="264.70" y1="551.89" x2="264.70" y2="544.92" stroke="#4a4aa8" stroke-width="0.8" />
<line x1="262.70" y1="544.92" x2="266.70" y2="544.92" stroke="#4a4aa8" stroke-width="0.8" />
<circle cx="264.70" cy="528.37" r="1.42" fill="#0b0b84"/>
<circle cx="264.70" cy="534.47" r="1.42" fill="#0b0b84"/>
<circle cx="265.20" cy="545.79" r="1.42" fill="#0b0b84"/>
<circle cx="263.70" cy="548.41" r="1.42" fill="#0b0b84"/>
<circle cx="265.70" cy="550.15" r="1.42" fill="#0b0b84"/>
<circle cx="262.70" cy="553.63" r="1.42" fill="#0b0b84"/>
<circle cx="264.70" cy="553.63" r="1.42" fill="#0b0b84"/>
<circle cx="266.70" cy="554.50" r="1.42" fill="#0b0b84"/>
<circle cx="262.20" cy="557.12" r="1.42" fill="#0b0b84"/>
<circle cx="264.20" cy="557.12" r="1.42" fill="#0b0b84"/>
<circle cx="266.20" cy="557.99" r="1.42" fill="#0b0b84"/>
<circle cx="263.20" cy="559.73" r="1.42" fill="#0b0b84"/>
<circle cx="265.20" cy="559.73" r="1.42" fill="#0b0b84"/>
<circle cx="267.20" cy="560.16" r="1.42" fill="#0b0b84"/>
<rect x="272.20" y="546.66" width="7.00" height="13.94" fill="#edd6ed"/>
<line x1="275.70" y1="546.66" x2="275.70" y2="527.50" stroke="#a650a6" stroke-width="0.8" />
<line x1="273.70" y1="527.50" x2="277.70" y2="527.50" stroke="#a650a6" stroke-width="0.8" />
<circle cx="275.70" cy="505.73" r="1.42" fill="#860d86"/>
<circle cx="275.70" cy="519.66" r="1.42" fill="#860d86"/>
<circle cx="275.70" cy="527.50" r="1.42" fill="#860d86"/>
<circle cx="275.70" cy="543.18" r="1.42" fill="#860d86"/>
<circle cx="273.70" cy="553.63" r="1.42" fill="#860d86"/>
<circle cx="275.70" cy="553.63" r="1.42" fill="#860d86"/>
<circle cx="277.70" cy="553.63" r="1.42" fill="#860d86"/>
<circle cx="274.70" cy="556.25" r="1.42" fill="#860d86"/>
<circle cx="277.20" cy="556.25" r="1.42" fill="#860d86"/>
<circle cx="273.70" cy="558.86" r="1.42" fill="#860d86"/>
<circle cx="276.20" cy="558.86" r="1.42" fill="#860d86"/>
<circle cx="278.20" cy="558.86" r="1.42" fill="#860d86"/>
<rect x="291.20" y="550.15" width="7.00" height="10.45" fill="#dadaf5"/>
<circle cx="294.70" cy="534.47" r="1.42" fill="#0b0b84"/>
<circle cx="295.20" cy="537.95" r="1.42" fill="#0b0b84"/>
<circle cx="293.70" cy="541.44" r="1.42" fill="#0b0b84"/>
<circle cx="295.70" cy="543.18" r="1.42" fill="#0b0b84"/>
<circle cx="292.70" cy="545.79" r="1.42" fill="#0b0b84"/>
<circle cx="294.70" cy="545.79" r="1.42" fill="#0b0b84"/>
<circle cx="296.70" cy="546.66" r="1.42" fill="#0b0b84"/>
<circle cx="292.20" cy="549.28" r="1.42" fill="#0b0b84"/>
<circle cx="294.20" cy="549.28" r="1.42" fill="#0b0b84"/>
<circle cx="296.20" cy="550.15" r="1.42" fill="#0b0b84"/>
<circle cx="293.20" cy="551.89" r="1.42" fill="#0b0b84"/>
<circle cx="295.20" cy="552.76" r="1.42" fill="#0b0b84"/>
<circle cx="297.20" cy="552.76" r="1.42" fill="#0b0b84"/>
<circle cx="293.70" cy="555.37" r="1.42" fill="#0b0b84"/>
<circle cx="295.70" cy="556.25" r="1.42" fill="#0b0b84"/>
<circle cx="294.70" cy="558.86" r="1.42" fill="#0b0b84"/>
<rect x="302.20" y="547.53" width="7.00" height="13.07" fill="#edd6ed"/>
<line x1="305.70" y1="547.53" x2="305.70" y2="534.47" stroke="#a650a6" stroke-width="0.8" />
<line x1="303.70" y1="534.47" x2="307.70" y2="534.47" stroke="#a650a6" stroke-width="0.8" />
<circle cx="305.70" cy="514.44" r="1.42" fill="#860d86"/>
<circle cx="305.70" cy="530.12" r="1.42" fill="#860d86"/>
<circle cx="305.20" cy="537.08" r="1.42" fill="#860d86"/>
<circle cx="305.70" cy="544.92" r="1.42" fill="#860d86"/>
<circle cx="303.70" cy="551.89" r="1.42" fill="#860d86"/>
<circle cx="305.70" cy="551.89" r="1.42" fill="#860d86"/>
<circle cx="307.70" cy="552.76" r="1.42" fill="#860d86"/>
<circle cx="304.20" cy="555.37" r="1.42" fill="#860d86"/>
<circle cx="306.70" cy="555.37" r="1.42" fill="#860d86"/>
<circle cx="303.20" cy="557.12" r="1.42" fill="#860d86"/>
<circle cx="308.20" cy="557.12" r="1.42" fill="#860d86"/>
<circle cx="305.70" cy="558.86" r="1.42" fill="#860d86"/>
<line x1="227.00" y1="561.30" x2="227.00" y2="429.25" stroke="#000" stroke-width="1.4" />
<line x1="226.30" y1="560.60" x2="314.00" y2="560.60" stroke="#000" stroke-width="1.4" />
<line x1="222.00" y1="560.60" x2="227.00" y2="560.60" stroke="#000" stroke-width="1.4" />
<text x="219.80" y="564.00" font-size="9.6" text-anchor="end" fill="#000" stroke="#000" >0.00</text>
<line x1="222.00" y1="517.05" x2="227.00" y2="517.05" stroke="#000" stroke-width="1.4" />
<text x="219.80" y="520.45" font-size="9.6" text-anchor="end" fill="#000" stroke="#000" >0.05</text>
<line x1="222.00" y1="473.50" x2="227.00" y2="473.50" stroke="#000" stroke-width="1.4" />
<text x="219.80" y="476.90" font-size="9.6" text-anchor="end" fill="#000" stroke="#000" >0.10</text>
<line x1="222.00" y1="429.95" x2="227.00" y2="429.95" stroke="#000" stroke-width="1.4" />
<text x="219.80" y="433.35" font-size="9.6" text-anchor="end" fill="#000" stroke="#000" >0.15</text>
<line x1="240.00" y1="560.60" x2="240.00" y2="565.60" stroke="#000" stroke-width="1.4" />
<text x="240.00" y="575.80" font-size="9.6" text-anchor="middle" fill="#000" stroke="#000" >0</text>
<line x1="270.00" y1="560.60" x2="270.00" y2="565.60" stroke="#000" stroke-width="1.4" />
<text x="270.00" y="575.80" font-size="9.6" text-anchor="middle" fill="#000" stroke="#000" >14</text>
<line x1="300.00" y1="560.60" x2="300.00" y2="565.60" stroke="#000" stroke-width="1.4" />
<text x="300.00" y="575.80" font-size="9.6" text-anchor="middle" fill="#000" stroke="#000" >28</text>
<text x="270.00" y="591.30" font-size="10.3" text-anchor="middle" fill="#000" stroke="#000" >dpv</text>
<text transform="translate(181.10,493.50) rotate(-90)" font-size="9.8" text-anchor="middle" stroke="#000">%IFN&#947;<tspan font-size="6.5" dy="-3.4">+</tspan><tspan dy="3.4">TNF&#945;</tspan><tspan font-size="6.5" dy="-3.4">+</tspan></text>
<text transform="translate(194.40,493.50) rotate(-90)" font-size="9.8" text-anchor="middle" stroke="#000">within CD8<tspan font-size="6.5" dy="-3.4">+</tspan><tspan dy="3.4"> T cells</tspan></text>
<rect x="57.8" y="230.6" width="112.10" height="111.70" fill="#fff" stroke="#222" stroke-width="0.8"/>
<line x1="55.20" y1="337.30" x2="57.80" y2="337.30" stroke="#222" stroke-width="0.8" />
<line x1="55.20" y1="324.30" x2="57.80" y2="324.30" stroke="#222" stroke-width="0.8" />
<line x1="55.20" y1="311.30" x2="57.80" y2="311.30" stroke="#222" stroke-width="0.8" />
<line x1="55.20" y1="290.30" x2="57.80" y2="290.30" stroke="#222" stroke-width="0.8" />
<line x1="55.20" y1="270.80" x2="57.80" y2="270.80" stroke="#222" stroke-width="0.8" />
<line x1="55.20" y1="252.30" x2="57.80" y2="252.30" stroke="#222" stroke-width="0.8" />
<line x1="55.20" y1="233.80" x2="57.80" y2="233.80" stroke="#222" stroke-width="0.8" />
<line x1="56.20" y1="304.98" x2="57.80" y2="304.98" stroke="#333" stroke-width="0.5" />
<line x1="56.20" y1="301.28" x2="57.80" y2="301.28" stroke="#333" stroke-width="0.5" />
<line x1="56.20" y1="298.66" x2="57.80" y2="298.66" stroke="#333" stroke-width="0.5" />
<line x1="56.20" y1="296.62" x2="57.80" y2="296.62" stroke="#333" stroke-width="0.5" />
<line x1="56.20" y1="294.96" x2="57.80" y2="294.96" stroke="#333" stroke-width="0.5" />
<line x1="56.20" y1="293.55" x2="57.80" y2="293.55" stroke="#333" stroke-width="0.5" />
<line x1="56.20" y1="292.34" x2="57.80" y2="292.34" stroke="#333" stroke-width="0.5" />
<line x1="56.20" y1="291.26" x2="57.80" y2="291.26" stroke="#333" stroke-width="0.5" />
<line x1="56.20" y1="284.43" x2="57.80" y2="284.43" stroke="#333" stroke-width="0.5" />
<line x1="56.20" y1="281.00" x2="57.80" y2="281.00" stroke="#333" stroke-width="0.5" />
<line x1="56.20" y1="278.56" x2="57.80" y2="278.56" stroke="#333" stroke-width="0.5" />
<line x1="56.20" y1="276.67" x2="57.80" y2="276.67" stroke="#333" stroke-width="0.5" />
<line x1="56.20" y1="275.13" x2="57.80" y2="275.13" stroke="#333" stroke-width="0.5" />
<line x1="56.20" y1="273.82" x2="57.80" y2="273.82" stroke="#333" stroke-width="0.5" />
<line x1="56.20" y1="272.69" x2="57.80" y2="272.69" stroke="#333" stroke-width="0.5" />
<line x1="56.20" y1="271.69" x2="57.80" y2="271.69" stroke="#333" stroke-width="0.5" />
<line x1="56.20" y1="265.23" x2="57.80" y2="265.23" stroke="#333" stroke-width="0.5" />
<line x1="56.20" y1="261.97" x2="57.80" y2="261.97" stroke="#333" stroke-width="0.5" />
<line x1="56.20" y1="259.66" x2="57.80" y2="259.66" stroke="#333" stroke-width="0.5" />
<line x1="56.20" y1="257.87" x2="57.80" y2="257.87" stroke="#333" stroke-width="0.5" />
<line x1="56.20" y1="256.40" x2="57.80" y2="256.40" stroke="#333" stroke-width="0.5" />
<line x1="56.20" y1="255.17" x2="57.80" y2="255.17" stroke="#333" stroke-width="0.5" />
<line x1="56.20" y1="254.09" x2="57.80" y2="254.09" stroke="#333" stroke-width="0.5" />
<line x1="56.20" y1="253.15" x2="57.80" y2="253.15" stroke="#333" stroke-width="0.5" />
<line x1="56.20" y1="246.73" x2="57.80" y2="246.73" stroke="#333" stroke-width="0.5" />
<line x1="56.20" y1="243.47" x2="57.80" y2="243.47" stroke="#333" stroke-width="0.5" />
<line x1="56.20" y1="241.16" x2="57.80" y2="241.16" stroke="#333" stroke-width="0.5" />
<line x1="56.20" y1="239.37" x2="57.80" y2="239.37" stroke="#333" stroke-width="0.5" />
<line x1="56.20" y1="237.90" x2="57.80" y2="237.90" stroke="#333" stroke-width="0.5" />
<line x1="56.20" y1="236.67" x2="57.80" y2="236.67" stroke="#333" stroke-width="0.5" />
<line x1="56.20" y1="235.59" x2="57.80" y2="235.59" stroke="#333" stroke-width="0.5" />
<line x1="56.20" y1="234.65" x2="57.80" y2="234.65" stroke="#333" stroke-width="0.5" />
<line x1="62.80" y1="342.30" x2="62.80" y2="344.80" stroke="#222" stroke-width="0.7" />
<line x1="75.80" y1="342.30" x2="75.80" y2="344.80" stroke="#222" stroke-width="0.7" />
<line x1="88.80" y1="342.30" x2="88.80" y2="344.80" stroke="#222" stroke-width="0.7" />
<line x1="109.80" y1="342.30" x2="109.80" y2="344.80" stroke="#222" stroke-width="0.7" />
<line x1="129.30" y1="342.30" x2="129.30" y2="344.80" stroke="#222" stroke-width="0.7" />
<line x1="147.80" y1="342.30" x2="147.80" y2="344.80" stroke="#222" stroke-width="0.7" />
<line x1="166.30" y1="342.30" x2="166.30" y2="344.80" stroke="#222" stroke-width="0.7" />
<line x1="95.12" y1="342.30" x2="95.12" y2="343.90" stroke="#333" stroke-width="0.5" />
<line x1="98.82" y1="342.30" x2="98.82" y2="343.90" stroke="#333" stroke-width="0.5" />
<line x1="101.44" y1="342.30" x2="101.44" y2="343.90" stroke="#333" stroke-width="0.5" />
<line x1="103.48" y1="342.30" x2="103.48" y2="343.90" stroke="#333" stroke-width="0.5" />
<line x1="105.14" y1="342.30" x2="105.14" y2="343.90" stroke="#333" stroke-width="0.5" />
<line x1="106.55" y1="342.30" x2="106.55" y2="343.90" stroke="#333" stroke-width="0.5" />
<line x1="107.76" y1="342.30" x2="107.76" y2="343.90" stroke="#333" stroke-width="0.5" />
<line x1="108.84" y1="342.30" x2="108.84" y2="343.90" stroke="#333" stroke-width="0.5" />
<line x1="115.67" y1="342.30" x2="115.67" y2="343.90" stroke="#333" stroke-width="0.5" />
<line x1="119.10" y1="342.30" x2="119.10" y2="343.90" stroke="#333" stroke-width="0.5" />
<line x1="121.54" y1="342.30" x2="121.54" y2="343.90" stroke="#333" stroke-width="0.5" />
<line x1="123.43" y1="342.30" x2="123.43" y2="343.90" stroke="#333" stroke-width="0.5" />
<line x1="124.97" y1="342.30" x2="124.97" y2="343.90" stroke="#333" stroke-width="0.5" />
<line x1="126.28" y1="342.30" x2="126.28" y2="343.90" stroke="#333" stroke-width="0.5" />
<line x1="127.41" y1="342.30" x2="127.41" y2="343.90" stroke="#333" stroke-width="0.5" />
<line x1="128.41" y1="342.30" x2="128.41" y2="343.90" stroke="#333" stroke-width="0.5" />
<line x1="134.87" y1="342.30" x2="134.87" y2="343.90" stroke="#333" stroke-width="0.5" />
<line x1="138.13" y1="342.30" x2="138.13" y2="343.90" stroke="#333" stroke-width="0.5" />
<line x1="140.44" y1="342.30" x2="140.44" y2="343.90" stroke="#333" stroke-width="0.5" />
<line x1="142.23" y1="342.30" x2="142.23" y2="343.90" stroke="#333" stroke-width="0.5" />
<line x1="143.70" y1="342.30" x2="143.70" y2="343.90" stroke="#333" stroke-width="0.5" />
<line x1="144.93" y1="342.30" x2="144.93" y2="343.90" stroke="#333" stroke-width="0.5" />
<line x1="146.01" y1="342.30" x2="146.01" y2="343.90" stroke="#333" stroke-width="0.5" />
<line x1="146.95" y1="342.30" x2="146.95" y2="343.90" stroke="#333" stroke-width="0.5" />
<line x1="153.37" y1="342.30" x2="153.37" y2="343.90" stroke="#333" stroke-width="0.5" />
<line x1="156.63" y1="342.30" x2="156.63" y2="343.90" stroke="#333" stroke-width="0.5" />
<line x1="158.94" y1="342.30" x2="158.94" y2="343.90" stroke="#333" stroke-width="0.5" />
<line x1="160.73" y1="342.30" x2="160.73" y2="343.90" stroke="#333" stroke-width="0.5" />
<line x1="162.20" y1="342.30" x2="162.20" y2="343.90" stroke="#333" stroke-width="0.5" />
<line x1="163.43" y1="342.30" x2="163.43" y2="343.90" stroke="#333" stroke-width="0.5" />
<line x1="164.51" y1="342.30" x2="164.51" y2="343.90" stroke="#333" stroke-width="0.5" />
<line x1="165.45" y1="342.30" x2="165.45" y2="343.90" stroke="#333" stroke-width="0.5" />
<rect x="55.20" y="322.60" width="2.6" height="1.8" fill="#111"/>
<rect x="74.40" y="342.30" width="2.4" height="2.6" fill="#111"/>
<rect x="73.60" y="282.69" width="1.9" height="1.9" fill="#2222fb"/>
<rect x="111.78" y="283.96" width="1.9" height="1.9" fill="#2222fb"/>
<rect x="96.32" y="291.78" width="1.9" height="1.9" fill="#2222fb"/>
<rect x="80.87" y="293.96" width="1.9" height="1.9" fill="#2222fb"/>
<rect x="71.23" y="298.14" width="1.9" height="1.9" fill="#2222fb"/>
<rect x="79.05" y="298.14" width="1.9" height="1.9" fill="#2222fb"/>
<rect x="72.69" y="302.69" width="1.9" height="1.9" fill="#2222fb"/>
<rect x="75.96" y="301.78" width="1.9" height="1.9" fill="#2222fb"/>
<rect x="80.87" y="301.23" width="1.9" height="1.9" fill="#2222fb"/>
<rect x="81.78" y="304.50" width="1.9" height="1.9" fill="#2222fb"/>
<rect x="89.96" y="314.50" width="1.9" height="1.9" fill="#2222fb"/>
<rect x="88.14" y="317.23" width="1.9" height="1.9" fill="#2222fb"/>
<rect x="89.05" y="322.32" width="1.9" height="1.9" fill="#2222fb"/>
<rect x="99.96" y="322.32" width="1.9" height="1.9" fill="#2222fb"/>
<rect x="105.78" y="323.60" width="1.9" height="1.9" fill="#2222fb"/>
<rect x="114.50" y="323.60" width="1.9" height="1.9" fill="#2222fb"/>
<rect x="77.23" y="306.32" width="1.9" height="1.9" fill="#2222fb"/>
<rect x="79.96" y="307.78" width="1.9" height="1.9" fill="#2222fb"/>
<rect x="74.50" y="308.14" width="1.9" height="1.9" fill="#2222fb"/>
<rect x="78.50" y="309.05" width="1.9" height="1.9" fill="#2222fb"/>
<rect x="76.69" y="309.96" width="1.9" height="1.9" fill="#2222fb"/>
<rect x="82.69" y="310.87" width="1.9" height="1.9" fill="#2222fb"/>
<rect x="72.69" y="309.60" width="1.9" height="1.9" fill="#2222fb"/>
<rect x="83.60" y="313.60" width="1.9" height="1.9" fill="#2222fb"/>
<rect x="67.23" y="315.41" width="1.9" height="1.9" fill="#2222fb"/>
<rect x="66.32" y="326.32" width="1.9" height="1.9" fill="#2222fb"/>
<rect x="83.60" y="325.41" width="1.9" height="1.9" fill="#2222fb"/>
<rect x="71.95" y="328.84" width="1.9" height="1.9" fill="#2222fb"/>
<rect x="71.14" y="316.39" width="1.9" height="1.9" fill="#2222fb"/>
<rect x="67.72" y="320.72" width="1.9" height="1.9" fill="#2222fb"/>
<rect x="82.45" y="325.47" width="1.9" height="1.9" fill="#2222fb"/>
<rect x="82.55" y="324.45" width="1.9" height="1.9" fill="#2222fb"/>
<rect x="81.16" y="325.52" width="1.9" height="1.9" fill="#2222fb"/>
<rect x="67.21" y="326.68" width="1.9" height="1.9" fill="#2222fb"/>
<rect x="80.13" y="327.65" width="1.9" height="1.9" fill="#2222fb"/>
<rect x="68.68" y="315.09" width="1.9" height="1.9" fill="#2222fb"/>
<rect x="68.32" y="318.57" width="1.9" height="1.9" fill="#2222fb"/>
<rect x="81.61" y="321.52" width="1.9" height="1.9" fill="#2222fb"/>
<rect x="79.66" y="316.12" width="1.9" height="1.9" fill="#2222fb"/>
<rect x="79.26" y="328.03" width="1.9" height="1.9" fill="#2222fb"/>
<rect x="71.89" y="330.85" width="1.9" height="1.9" fill="#2222fb"/>
<rect x="78.48" y="330.02" width="1.9" height="1.9" fill="#2222fb"/>
<rect x="70.20" y="316.00" width="1.9" height="1.9" fill="#2222fb"/>
<rect x="68.67" y="320.38" width="1.9" height="1.9" fill="#2222fb"/>
<rect x="81.64" y="325.24" width="1.9" height="1.9" fill="#2222fb"/>
<rect x="71.79" y="314.63" width="1.9" height="1.9" fill="#2222fb"/>
<rect x="71.86" y="330.14" width="1.9" height="1.9" fill="#2222fb"/>
<rect x="68.03" y="324.78" width="1.9" height="1.9" fill="#2222fb"/>
<rect x="77.38" y="313.30" width="1.9" height="1.9" fill="#2222fb"/>
<rect x="75.35" y="330.75" width="1.9" height="1.9" fill="#2222fb"/>
<rect x="66.21" y="321.03" width="1.9" height="1.9" fill="#2222fb"/>
<rect x="74.11" y="314.32" width="1.9" height="1.9" fill="#2222fb"/>
<rect x="81.83" y="321.67" width="1.9" height="1.9" fill="#2222fb"/>
<rect x="67.55" y="326.89" width="1.9" height="1.9" fill="#2222fb"/>
<rect x="79.60" y="329.07" width="1.9" height="1.9" fill="#2222fb"/>
<rect x="83.17" y="324.69" width="1.9" height="1.9" fill="#2222fb"/>
<rect x="75.79" y="313.37" width="1.9" height="1.9" fill="#2222fb"/>
<rect x="80.28" y="316.67" width="1.9" height="1.9" fill="#2222fb"/>
<rect x="72.30" y="313.81" width="1.9" height="1.9" fill="#2222fb"/>
<rect x="68.23" y="318.35" width="1.9" height="1.9" fill="#2222fb"/>
<rect x="79.95" y="313.77" width="1.9" height="1.9" fill="#2222fb"/>
<rect x="66.80" y="324.00" width="1.9" height="1.9" fill="#2222fb"/>
<rect x="82.91" y="325.80" width="1.9" height="1.9" fill="#2222fb"/>
<rect x="69.46" y="314.13" width="1.9" height="1.9" fill="#2222fb"/>
<rect x="78.24" y="315.10" width="1.9" height="1.9" fill="#2222fb"/>
<rect x="68.74" y="328.16" width="1.9" height="1.9" fill="#2222fb"/>
<rect x="82.76" y="323.75" width="1.9" height="1.9" fill="#2222fb"/>
<rect x="78.41" y="328.59" width="1.9" height="1.9" fill="#2222fb"/>
<rect x="83.11" y="325.78" width="1.9" height="1.9" fill="#2222fb"/>
<rect x="80.00" y="327.87" width="1.9" height="1.9" fill="#2222fb"/>
<rect x="68.13" y="328.31" width="1.9" height="1.9" fill="#2222fb"/>
<rect x="81.83" y="326.41" width="1.9" height="1.9" fill="#2222fb"/>
<rect x="66.51" y="319.50" width="1.9" height="1.9" fill="#2222fb"/>
<rect x="78.81" y="313.35" width="1.9" height="1.9" fill="#2222fb"/>
<rect x="73.69" y="330.19" width="1.9" height="1.9" fill="#2222fb"/>
<rect x="69.38" y="329.61" width="1.9" height="1.9" fill="#2222fb"/>
<rect x="81.73" y="320.56" width="1.9" height="1.9" fill="#2222fb"/>
<rect x="78.25" y="329.04" width="1.9" height="1.9" fill="#2222fb"/>
<rect x="75.87" y="330.46" width="1.9" height="1.9" fill="#2222fb"/>
<rect x="68.92" y="318.23" width="1.9" height="1.9" fill="#2222fb"/>
<rect x="82.72" y="322.85" width="1.9" height="1.9" fill="#2222fb"/>
<rect x="69.54" y="328.57" width="1.9" height="1.9" fill="#2222fb"/>
<rect x="83.12" y="319.83" width="1.9" height="1.9" fill="#2222fb"/>
<rect x="66.86" y="321.73" width="1.9" height="1.9" fill="#2222fb"/>
<rect x="72.08" y="315.81" width="1.9" height="1.9" fill="#2222fb"/>
<rect x="82.06" y="316.76" width="1.9" height="1.9" fill="#2222fb"/>
<rect x="81.21" y="315.53" width="1.9" height="1.9" fill="#2222fb"/>
<rect x="69.11" y="327.42" width="1.9" height="1.9" fill="#2222fb"/>
<rect x="81.64" y="327.66" width="1.9" height="1.9" fill="#2222fb"/>
<rect x="81.23" y="325.20" width="1.9" height="1.9" fill="#2222fb"/>
<rect x="76.83" y="329.37" width="1.9" height="1.9" fill="#2222fb"/>
<rect x="71.49" y="328.26" width="1.9" height="1.9" fill="#2222fb"/>
<rect x="81.97" y="322.66" width="1.9" height="1.9" fill="#2222fb"/>
<rect x="81.09" y="327.12" width="1.9" height="1.9" fill="#2222fb"/>
<rect x="83.88" y="324.08" width="1.9" height="1.9" fill="#2222fb"/>
<rect x="69.84" y="317.43" width="1.9" height="1.9" fill="#2222fb"/>
<rect x="74.94" y="330.12" width="1.9" height="1.9" fill="#2222fb"/>
<ellipse cx="76" cy="323.6" rx="8.11" ry="7.80" fill="#1414f5"/>
<ellipse cx="76" cy="323.6" rx="6.24" ry="6.00" fill="#0a70f5"/>
<ellipse cx="76" cy="323.6" rx="5.41" ry="5.20" fill="#14ccea"/>
<ellipse cx="76" cy="323.6" rx="4.16" ry="4.00" fill="#35e04a"/>
<ellipse cx="76" cy="323.6" rx="3.02" ry="2.90" fill="#f0ee20"/>
<ellipse cx="76" cy="323.6" rx="2.08" ry="2.00" fill="#ff8a12"/>
<ellipse cx="76" cy="323.6" rx="1.35" ry="1.30" fill="#f01010"/>
<line x1="86.50" y1="230.60" x2="86.50" y2="342.30" stroke="#222" stroke-width="0.8" />
<line x1="57.80" y1="313.30" x2="169.90" y2="313.30" stroke="#222" stroke-width="0.8" />
<text x="61.80" y="239.00" font-size="7.2" text-anchor="start" fill="#2a2a2a" stroke="#2a2a2a" >0.077</text>
<text x="166.90" y="239.00" font-size="7.2" text-anchor="end" fill="#2a2a2a" stroke="#2a2a2a" >0.007</text>
<text x="61.20" y="339.70" font-size="7.2" text-anchor="start" fill="#2a2a2a" stroke="#2a2a2a" >99.9</text>
<text x="166.90" y="339.70" font-size="7.2" text-anchor="end" fill="#2a2a2a" stroke="#2a2a2a" >0.03</text>
<rect x="174.6" y="230.6" width="112.40" height="111.70" fill="#fff" stroke="#222" stroke-width="0.8"/>
<line x1="172.00" y1="337.30" x2="174.60" y2="337.30" stroke="#222" stroke-width="0.8" />
<line x1="172.00" y1="324.30" x2="174.60" y2="324.30" stroke="#222" stroke-width="0.8" />
<line x1="172.00" y1="311.30" x2="174.60" y2="311.30" stroke="#222" stroke-width="0.8" />
<line x1="172.00" y1="290.30" x2="174.60" y2="290.30" stroke="#222" stroke-width="0.8" />
<line x1="172.00" y1="270.80" x2="174.60" y2="270.80" stroke="#222" stroke-width="0.8" />
<line x1="172.00" y1="252.30" x2="174.60" y2="252.30" stroke="#222" stroke-width="0.8" />
<line x1="172.00" y1="233.80" x2="174.60" y2="233.80" stroke="#222" stroke-width="0.8" />
<line x1="173.00" y1="304.98" x2="174.60" y2="304.98" stroke="#333" stroke-width="0.5" />
<line x1="173.00" y1="301.28" x2="174.60" y2="301.28" stroke="#333" stroke-width="0.5" />
<line x1="173.00" y1="298.66" x2="174.60" y2="298.66" stroke="#333" stroke-width="0.5" />
<line x1="173.00" y1="296.62" x2="174.60" y2="296.62" stroke="#333" stroke-width="0.5" />
<line x1="173.00" y1="294.96" x2="174.60" y2="294.96" stroke="#333" stroke-width="0.5" />
<line x1="173.00" y1="293.55" x2="174.60" y2="293.55" stroke="#333" stroke-width="0.5" />
<line x1="173.00" y1="292.34" x2="174.60" y2="292.34" stroke="#333" stroke-width="0.5" />
<line x1="173.00" y1="291.26" x2="174.60" y2="291.26" stroke="#333" stroke-width="0.5" />
<line x1="173.00" y1="284.43" x2="174.60" y2="284.43" stroke="#333" stroke-width="0.5" />
<line x1="173.00" y1="281.00" x2="174.60" y2="281.00" stroke="#333" stroke-width="0.5" />
<line x1="173.00" y1="278.56" x2="174.60" y2="278.56" stroke="#333" stroke-width="0.5" />
<line x1="173.00" y1="276.67" x2="174.60" y2="276.67" stroke="#333" stroke-width="0.5" />
<line x1="173.00" y1="275.13" x2="174.60" y2="275.13" stroke="#333" stroke-width="0.5" />
<line x1="173.00" y1="273.82" x2="174.60" y2="273.82" stroke="#333" stroke-width="0.5" />
<line x1="173.00" y1="272.69" x2="174.60" y2="272.69" stroke="#333" stroke-width="0.5" />
<line x1="173.00" y1="271.69" x2="174.60" y2="271.69" stroke="#333" stroke-width="0.5" />
<line x1="173.00" y1="265.23" x2="174.60" y2="265.23" stroke="#333" stroke-width="0.5" />
<line x1="173.00" y1="261.97" x2="174.60" y2="261.97" stroke="#333" stroke-width="0.5" />
<line x1="173.00" y1="259.66" x2="174.60" y2="259.66" stroke="#333" stroke-width="0.5" />
<line x1="173.00" y1="257.87" x2="174.60" y2="257.87" stroke="#333" stroke-width="0.5" />
<line x1="173.00" y1="256.40" x2="174.60" y2="256.40" stroke="#333" stroke-width="0.5" />
<line x1="173.00" y1="255.17" x2="174.60" y2="255.17" stroke="#333" stroke-width="0.5" />
<line x1="173.00" y1="254.09" x2="174.60" y2="254.09" stroke="#333" stroke-width="0.5" />
<line x1="173.00" y1="253.15" x2="174.60" y2="253.15" stroke="#333" stroke-width="0.5" />
<line x1="173.00" y1="246.73" x2="174.60" y2="246.73" stroke="#333" stroke-width="0.5" />
<line x1="173.00" y1="243.47" x2="174.60" y2="243.47" stroke="#333" stroke-width="0.5" />
<line x1="173.00" y1="241.16" x2="174.60" y2="241.16" stroke="#333" stroke-width="0.5" />
<line x1="173.00" y1="239.37" x2="174.60" y2="239.37" stroke="#333" stroke-width="0.5" />
<line x1="173.00" y1="237.90" x2="174.60" y2="237.90" stroke="#333" stroke-width="0.5" />
<line x1="173.00" y1="236.67" x2="174.60" y2="236.67" stroke="#333" stroke-width="0.5" />
<line x1="173.00" y1="235.59" x2="174.60" y2="235.59" stroke="#333" stroke-width="0.5" />
<line x1="173.00" y1="234.65" x2="174.60" y2="234.65" stroke="#333" stroke-width="0.5" />
<line x1="179.60" y1="342.30" x2="179.60" y2="344.80" stroke="#222" stroke-width="0.7" />
<line x1="192.60" y1="342.30" x2="192.60" y2="344.80" stroke="#222" stroke-width="0.7" />
<line x1="205.60" y1="342.30" x2="205.60" y2="344.80" stroke="#222" stroke-width="0.7" />
<line x1="226.60" y1="342.30" x2="226.60" y2="344.80" stroke="#222" stroke-width="0.7" />
<line x1="246.10" y1="342.30" x2="246.10" y2="344.80" stroke="#222" stroke-width="0.7" />
<line x1="264.60" y1="342.30" x2="264.60" y2="344.80" stroke="#222" stroke-width="0.7" />
<line x1="283.10" y1="342.30" x2="283.10" y2="344.80" stroke="#222" stroke-width="0.7" />
<line x1="211.92" y1="342.30" x2="211.92" y2="343.90" stroke="#333" stroke-width="0.5" />
<line x1="215.62" y1="342.30" x2="215.62" y2="343.90" stroke="#333" stroke-width="0.5" />
<line x1="218.24" y1="342.30" x2="218.24" y2="343.90" stroke="#333" stroke-width="0.5" />
<line x1="220.28" y1="342.30" x2="220.28" y2="343.90" stroke="#333" stroke-width="0.5" />
<line x1="221.94" y1="342.30" x2="221.94" y2="343.90" stroke="#333" stroke-width="0.5" />
<line x1="223.35" y1="342.30" x2="223.35" y2="343.90" stroke="#333" stroke-width="0.5" />
<line x1="224.56" y1="342.30" x2="224.56" y2="343.90" stroke="#333" stroke-width="0.5" />
<line x1="225.64" y1="342.30" x2="225.64" y2="343.90" stroke="#333" stroke-width="0.5" />
<line x1="232.47" y1="342.30" x2="232.47" y2="343.90" stroke="#333" stroke-width="0.5" />
<line x1="235.90" y1="342.30" x2="235.90" y2="343.90" stroke="#333" stroke-width="0.5" />
<line x1="238.34" y1="342.30" x2="238.34" y2="343.90" stroke="#333" stroke-width="0.5" />
<line x1="240.23" y1="342.30" x2="240.23" y2="343.90" stroke="#333" stroke-width="0.5" />
<line x1="241.77" y1="342.30" x2="241.77" y2="343.90" stroke="#333" stroke-width="0.5" />
<line x1="243.08" y1="342.30" x2="243.08" y2="343.90" stroke="#333" stroke-width="0.5" />
<line x1="244.21" y1="342.30" x2="244.21" y2="343.90" stroke="#333" stroke-width="0.5" />
<line x1="245.21" y1="342.30" x2="245.21" y2="343.90" stroke="#333" stroke-width="0.5" />
<line x1="251.67" y1="342.30" x2="251.67" y2="343.90" stroke="#333" stroke-width="0.5" />
<line x1="254.93" y1="342.30" x2="254.93" y2="343.90" stroke="#333" stroke-width="0.5" />
<line x1="257.24" y1="342.30" x2="257.24" y2="343.90" stroke="#333" stroke-width="0.5" />
<line x1="259.03" y1="342.30" x2="259.03" y2="343.90" stroke="#333" stroke-width="0.5" />
<line x1="260.50" y1="342.30" x2="260.50" y2="343.90" stroke="#333" stroke-width="0.5" />
<line x1="261.73" y1="342.30" x2="261.73" y2="343.90" stroke="#333" stroke-width="0.5" />
<line x1="262.81" y1="342.30" x2="262.81" y2="343.90" stroke="#333" stroke-width="0.5" />
<line x1="263.75" y1="342.30" x2="263.75" y2="343.90" stroke="#333" stroke-width="0.5" />
<line x1="270.17" y1="342.30" x2="270.17" y2="343.90" stroke="#333" stroke-width="0.5" />
<line x1="273.43" y1="342.30" x2="273.43" y2="343.90" stroke="#333" stroke-width="0.5" />
<line x1="275.74" y1="342.30" x2="275.74" y2="343.90" stroke="#333" stroke-width="0.5" />
<line x1="277.53" y1="342.30" x2="277.53" y2="343.90" stroke="#333" stroke-width="0.5" />
<line x1="279.00" y1="342.30" x2="279.00" y2="343.90" stroke="#333" stroke-width="0.5" />
<line x1="280.23" y1="342.30" x2="280.23" y2="343.90" stroke="#333" stroke-width="0.5" />
<line x1="281.31" y1="342.30" x2="281.31" y2="343.90" stroke="#333" stroke-width="0.5" />
<line x1="282.25" y1="342.30" x2="282.25" y2="343.90" stroke="#333" stroke-width="0.5" />
<rect x="172.00" y="322.60" width="2.6" height="1.8" fill="#111"/>
<rect x="191.40" y="342.30" width="2.4" height="2.6" fill="#111"/>
<rect x="183.23" y="285.60" width="1.9" height="1.9" fill="#2222fb"/>
<rect x="189.14" y="284.42" width="1.9" height="1.9" fill="#2222fb"/>
<rect x="195.05" y="286.07" width="1.9" height="1.9" fill="#2222fb"/>
<rect x="191.51" y="289.14" width="1.9" height="1.9" fill="#2222fb"/>
<rect x="191.51" y="292.69" width="1.9" height="1.9" fill="#2222fb"/>
<rect x="193.87" y="296.24" width="1.9" height="1.9" fill="#2222fb"/>
<rect x="187.96" y="299.78" width="1.9" height="1.9" fill="#2222fb"/>
<rect x="192.69" y="299.78" width="1.9" height="1.9" fill="#2222fb"/>
<rect x="197.42" y="299.78" width="1.9" height="1.9" fill="#2222fb"/>
<rect x="200.96" y="302.15" width="1.9" height="1.9" fill="#2222fb"/>
<rect x="186.78" y="304.04" width="1.9" height="1.9" fill="#2222fb"/>
<rect x="191.51" y="304.04" width="1.9" height="1.9" fill="#2222fb"/>
<rect x="196.24" y="305.69" width="1.9" height="1.9" fill="#2222fb"/>
<rect x="198.60" y="306.88" width="1.9" height="1.9" fill="#2222fb"/>
<rect x="192.69" y="309.24" width="1.9" height="1.9" fill="#2222fb"/>
<rect x="195.05" y="311.13" width="1.9" height="1.9" fill="#2222fb"/>
<rect x="197.42" y="312.79" width="1.9" height="1.9" fill="#2222fb"/>
<rect x="191.51" y="311.60" width="1.9" height="1.9" fill="#2222fb"/>
<rect x="193.87" y="313.97" width="1.9" height="1.9" fill="#2222fb"/>
<rect x="189.85" y="302.15" width="1.9" height="1.9" fill="#2222fb"/>
<rect x="194.58" y="303.33" width="1.9" height="1.9" fill="#2222fb"/>
<rect x="199.31" y="304.51" width="1.9" height="1.9" fill="#2222fb"/>
<rect x="195.53" y="308.06" width="1.9" height="1.9" fill="#2222fb"/>
<rect x="190.33" y="306.88" width="1.9" height="1.9" fill="#2222fb"/>
<rect x="200.26" y="309.71" width="1.9" height="1.9" fill="#2222fb"/>
<rect x="202.15" y="312.79" width="1.9" height="1.9" fill="#2222fb"/>
<rect x="238.32" y="280.40" width="1.9" height="1.9" fill="#2222fb"/>
<rect x="223.90" y="287.49" width="1.9" height="1.9" fill="#2222fb"/>
<rect x="225.79" y="290.33" width="1.9" height="1.9" fill="#2222fb"/>
<rect x="227.44" y="293.40" width="1.9" height="1.9" fill="#2222fb"/>
<rect x="236.43" y="293.40" width="1.9" height="1.9" fill="#2222fb"/>
<rect x="225.08" y="298.13" width="1.9" height="1.9" fill="#2222fb"/>
<rect x="222.24" y="299.78" width="1.9" height="1.9" fill="#2222fb"/>
<rect x="232.17" y="298.60" width="1.9" height="1.9" fill="#2222fb"/>
<rect x="235.24" y="298.13" width="1.9" height="1.9" fill="#2222fb"/>
<rect x="216.33" y="304.51" width="1.9" height="1.9" fill="#2222fb"/>
<rect x="219.88" y="306.88" width="1.9" height="1.9" fill="#2222fb"/>
<rect x="230.04" y="306.17" width="1.9" height="1.9" fill="#2222fb"/>
<rect x="239.97" y="306.88" width="1.9" height="1.9" fill="#2222fb"/>
<rect x="209.24" y="309.71" width="1.9" height="1.9" fill="#2222fb"/>
<rect x="222.24" y="309.71" width="1.9" height="1.9" fill="#2222fb"/>
<rect x="223.90" y="312.79" width="1.9" height="1.9" fill="#2222fb"/>
<rect x="238.79" y="312.79" width="1.9" height="1.9" fill="#2222fb"/>
<rect x="230.04" y="313.49" width="1.9" height="1.9" fill="#2222fb"/>
<rect x="216.33" y="315.62" width="1.9" height="1.9" fill="#2222fb"/>
<rect x="204.51" y="313.97" width="1.9" height="1.9" fill="#2222fb"/>
<rect x="212.74" y="324.83" width="1.9" height="1.9" fill="#2222fb"/>
<rect x="235.77" y="325.48" width="1.9" height="1.9" fill="#2222fb"/>
<rect x="216.06" y="322.84" width="1.9" height="1.9" fill="#2222fb"/>
<rect x="205.43" y="323.06" width="1.9" height="1.9" fill="#2222fb"/>
<rect x="212.07" y="323.01" width="1.9" height="1.9" fill="#2222fb"/>
<rect x="206.88" y="325.20" width="1.9" height="1.9" fill="#2222fb"/>
<rect x="203.84" y="324.30" width="1.9" height="1.9" fill="#2222fb"/>
<rect x="206.50" y="322.61" width="1.9" height="1.9" fill="#2222fb"/>
<rect x="218.70" y="324.79" width="1.9" height="1.9" fill="#2222fb"/>
<rect x="235.18" y="324.14" width="1.9" height="1.9" fill="#2222fb"/>
<rect x="230.60" y="323.46" width="1.9" height="1.9" fill="#2222fb"/>
<rect x="212.82" y="322.38" width="1.9" height="1.9" fill="#2222fb"/>
<rect x="207.02" y="323.25" width="1.9" height="1.9" fill="#2222fb"/>
<rect x="227.34" y="322.26" width="1.9" height="1.9" fill="#2222fb"/>
<rect x="211.67" y="323.55" width="1.9" height="1.9" fill="#2222fb"/>
<rect x="235.44" y="325.98" width="1.9" height="1.9" fill="#2222fb"/>
<rect x="230.18" y="324.48" width="1.9" height="1.9" fill="#2222fb"/>
<rect x="225.85" y="321.63" width="1.9" height="1.9" fill="#2222fb"/>
<rect x="208.64" y="322.03" width="1.9" height="1.9" fill="#2222fb"/>
<rect x="203.94" y="322.84" width="1.9" height="1.9" fill="#2222fb"/>
<rect x="203.92" y="322.80" width="1.9" height="1.9" fill="#2222fb"/>
<rect x="224.08" y="324.44" width="1.9" height="1.9" fill="#2222fb"/>
<rect x="234.29" y="321.32" width="1.9" height="1.9" fill="#2222fb"/>
<rect x="235.56" y="324.79" width="1.9" height="1.9" fill="#2222fb"/>
<rect x="234.23" y="323.34" width="1.9" height="1.9" fill="#2222fb"/>
<rect x="208.64" y="323.71" width="1.9" height="1.9" fill="#2222fb"/>
<rect x="207.81" y="323.53" width="1.9" height="1.9" fill="#2222fb"/>
<rect x="232.05" y="325.35" width="1.9" height="1.9" fill="#2222fb"/>
<rect x="229.70" y="322.08" width="1.9" height="1.9" fill="#2222fb"/>
<rect x="228.13" y="323.90" width="1.9" height="1.9" fill="#2222fb"/>
<rect x="205.04" y="321.65" width="1.9" height="1.9" fill="#2222fb"/>
<rect x="227.46" y="321.53" width="1.9" height="1.9" fill="#2222fb"/>
<rect x="226.24" y="322.92" width="1.9" height="1.9" fill="#2222fb"/>
<rect x="227.72" y="323.77" width="1.9" height="1.9" fill="#2222fb"/>
<rect x="211.76" y="324.16" width="1.9" height="1.9" fill="#2222fb"/>
<rect x="213.75" y="320.34" width="1.9" height="1.9" fill="#2222fb"/>
<rect x="213.93" y="325.01" width="1.9" height="1.9" fill="#2222fb"/>
<rect x="207.10" y="322.45" width="1.9" height="1.9" fill="#2222fb"/>
<rect x="206.01" y="324.48" width="1.9" height="1.9" fill="#2222fb"/>
<rect x="228.39" y="325.72" width="1.9" height="1.9" fill="#2222fb"/>
<rect x="206.49" y="324.53" width="1.9" height="1.9" fill="#2222fb"/>
<rect x="222.78" y="320.67" width="1.9" height="1.9" fill="#2222fb"/>
<rect x="212.31" y="322.63" width="1.9" height="1.9" fill="#2222fb"/>
<rect x="203.71" y="322.77" width="1.9" height="1.9" fill="#2222fb"/>
<rect x="234.87" y="323.06" width="1.9" height="1.9" fill="#2222fb"/>
<rect x="233.38" y="322.71" width="1.9" height="1.9" fill="#2222fb"/>
<rect x="214.99" y="324.78" width="1.9" height="1.9" fill="#2222fb"/>
<rect x="208.20" y="321.54" width="1.9" height="1.9" fill="#2222fb"/>
<rect x="209.35" y="322.90" width="1.9" height="1.9" fill="#2222fb"/>
<rect x="220.23" y="324.27" width="1.9" height="1.9" fill="#2222fb"/>
<rect x="209.57" y="322.60" width="1.9" height="1.9" fill="#2222fb"/>
<rect x="232.44" y="324.11" width="1.9" height="1.9" fill="#2222fb"/>
<rect x="212.42" y="321.75" width="1.9" height="1.9" fill="#2222fb"/>
<rect x="232.21" y="324.21" width="1.9" height="1.9" fill="#2222fb"/>
<rect x="214.56" y="324.46" width="1.9" height="1.9" fill="#2222fb"/>
<rect x="218.31" y="322.72" width="1.9" height="1.9" fill="#2222fb"/>
<rect x="218.02" y="324.61" width="1.9" height="1.9" fill="#2222fb"/>
<rect x="207.44" y="323.21" width="1.9" height="1.9" fill="#2222fb"/>
<rect x="203.58" y="323.17" width="1.9" height="1.9" fill="#2222fb"/>
<rect x="216.32" y="322.66" width="1.9" height="1.9" fill="#2222fb"/>
<rect x="225.30" y="322.64" width="1.9" height="1.9" fill="#2222fb"/>
<rect x="217.84" y="323.02" width="1.9" height="1.9" fill="#2222fb"/>
<rect x="219.13" y="323.53" width="1.9" height="1.9" fill="#2222fb"/>
<rect x="219.30" y="322.89" width="1.9" height="1.9" fill="#2222fb"/>
<rect x="209.25" y="322.79" width="1.9" height="1.9" fill="#2222fb"/>
<rect x="217.48" y="325.32" width="1.9" height="1.9" fill="#2222fb"/>
<rect x="219.35" y="323.58" width="1.9" height="1.9" fill="#2222fb"/>
<rect x="215.30" y="320.77" width="1.9" height="1.9" fill="#2222fb"/>
<rect x="221.16" y="322.10" width="1.9" height="1.9" fill="#2222fb"/>
<rect x="224.09" y="323.52" width="1.9" height="1.9" fill="#2222fb"/>
<rect x="215.61" y="322.03" width="1.9" height="1.9" fill="#2222fb"/>
<rect x="233.69" y="323.58" width="1.9" height="1.9" fill="#2222fb"/>
<rect x="224.33" y="325.53" width="1.9" height="1.9" fill="#2222fb"/>
<rect x="209.57" y="321.21" width="1.9" height="1.9" fill="#2222fb"/>
<rect x="219.28" y="325.49" width="1.9" height="1.9" fill="#2222fb"/>
<rect x="206.26" y="322.26" width="1.9" height="1.9" fill="#2222fb"/>
<rect x="205.88" y="322.60" width="1.9" height="1.9" fill="#2222fb"/>
<rect x="209.03" y="323.27" width="1.9" height="1.9" fill="#2222fb"/>
<rect x="204.79" y="322.01" width="1.9" height="1.9" fill="#2222fb"/>
<rect x="231.92" y="322.04" width="1.9" height="1.9" fill="#2222fb"/>
<rect x="206.70" y="322.69" width="1.9" height="1.9" fill="#2222fb"/>
<rect x="206.41" y="321.38" width="1.9" height="1.9" fill="#2222fb"/>
<rect x="231.36" y="324.58" width="1.9" height="1.9" fill="#2222fb"/>
<rect x="234.13" y="323.70" width="1.9" height="1.9" fill="#2222fb"/>
<rect x="213.83" y="319.78" width="1.9" height="1.9" fill="#2222fb"/>
<rect x="237.55" y="325.25" width="1.9" height="1.9" fill="#2222fb"/>
<rect x="239.35" y="325.85" width="1.9" height="1.9" fill="#2222fb"/>
<rect x="241.25" y="326.05" width="1.9" height="1.9" fill="#2222fb"/>
<rect x="205.55" y="320.05" width="1.9" height="1.9" fill="#2222fb"/>
<rect x="208.05" y="319.25" width="1.9" height="1.9" fill="#2222fb"/>
<rect x="212.05" y="320.05" width="1.9" height="1.9" fill="#2222fb"/>
<rect x="204.25" y="318.55" width="1.9" height="1.9" fill="#2222fb"/>
<rect x="195.49" y="315.70" width="1.9" height="1.9" fill="#2222fb"/>
<rect x="184.83" y="325.96" width="1.9" height="1.9" fill="#2222fb"/>
<rect x="188.31" y="328.62" width="1.9" height="1.9" fill="#2222fb"/>
<rect x="188.49" y="330.39" width="1.9" height="1.9" fill="#2222fb"/>
<rect x="200.04" y="323.63" width="1.9" height="1.9" fill="#2222fb"/>
<rect x="185.95" y="325.04" width="1.9" height="1.9" fill="#2222fb"/>
<rect x="188.01" y="329.84" width="1.9" height="1.9" fill="#2222fb"/>
<rect x="185.39" y="322.06" width="1.9" height="1.9" fill="#2222fb"/>
<rect x="200.72" y="321.71" width="1.9" height="1.9" fill="#2222fb"/>
<rect x="198.74" y="321.27" width="1.9" height="1.9" fill="#2222fb"/>
<rect x="191.40" y="329.23" width="1.9" height="1.9" fill="#2222fb"/>
<rect x="193.36" y="314.44" width="1.9" height="1.9" fill="#2222fb"/>
<rect x="197.32" y="328.24" width="1.9" height="1.9" fill="#2222fb"/>
<rect x="199.52" y="317.31" width="1.9" height="1.9" fill="#2222fb"/>
<rect x="191.68" y="329.56" width="1.9" height="1.9" fill="#2222fb"/>
<rect x="199.13" y="318.12" width="1.9" height="1.9" fill="#2222fb"/>
<rect x="189.98" y="315.26" width="1.9" height="1.9" fill="#2222fb"/>
<rect x="199.93" y="325.63" width="1.9" height="1.9" fill="#2222fb"/>
<rect x="186.07" y="325.68" width="1.9" height="1.9" fill="#2222fb"/>
<rect x="199.71" y="319.05" width="1.9" height="1.9" fill="#2222fb"/>
<rect x="194.20" y="315.31" width="1.9" height="1.9" fill="#2222fb"/>
<rect x="196.19" y="316.61" width="1.9" height="1.9" fill="#2222fb"/>
<rect x="197.11" y="315.86" width="1.9" height="1.9" fill="#2222fb"/>
<rect x="187.77" y="329.47" width="1.9" height="1.9" fill="#2222fb"/>
<rect x="198.54" y="318.94" width="1.9" height="1.9" fill="#2222fb"/>
<rect x="197.54" y="328.44" width="1.9" height="1.9" fill="#2222fb"/>
<rect x="192.54" y="329.44" width="1.9" height="1.9" fill="#2222fb"/>
<rect x="195.56" y="328.29" width="1.9" height="1.9" fill="#2222fb"/>
<rect x="194.25" y="329.69" width="1.9" height="1.9" fill="#2222fb"/>
<rect x="189.13" y="330.77" width="1.9" height="1.9" fill="#2222fb"/>
<rect x="190.09" y="330.30" width="1.9" height="1.9" fill="#2222fb"/>
<rect x="195.32" y="329.37" width="1.9" height="1.9" fill="#2222fb"/>
<rect x="199.20" y="323.47" width="1.9" height="1.9" fill="#2222fb"/>
<rect x="200.56" y="323.47" width="1.9" height="1.9" fill="#2222fb"/>
<rect x="185.38" y="320.10" width="1.9" height="1.9" fill="#2222fb"/>
<rect x="183.05" y="324.09" width="1.9" height="1.9" fill="#2222fb"/>
<rect x="198.95" y="328.10" width="1.9" height="1.9" fill="#2222fb"/>
<rect x="184.87" y="325.91" width="1.9" height="1.9" fill="#2222fb"/>
<rect x="195.90" y="315.12" width="1.9" height="1.9" fill="#2222fb"/>
<rect x="183.63" y="322.24" width="1.9" height="1.9" fill="#2222fb"/>
<rect x="199.46" y="321.71" width="1.9" height="1.9" fill="#2222fb"/>
<rect x="196.24" y="314.17" width="1.9" height="1.9" fill="#2222fb"/>
<rect x="187.04" y="316.03" width="1.9" height="1.9" fill="#2222fb"/>
<rect x="188.22" y="328.09" width="1.9" height="1.9" fill="#2222fb"/>
<rect x="196.64" y="327.53" width="1.9" height="1.9" fill="#2222fb"/>
<rect x="191.64" y="314.37" width="1.9" height="1.9" fill="#2222fb"/>
<rect x="195.54" y="328.41" width="1.9" height="1.9" fill="#2222fb"/>
<rect x="196.90" y="314.02" width="1.9" height="1.9" fill="#2222fb"/>
<rect x="188.56" y="315.29" width="1.9" height="1.9" fill="#2222fb"/>
<rect x="192.41" y="329.96" width="1.9" height="1.9" fill="#2222fb"/>
<rect x="185.33" y="324.40" width="1.9" height="1.9" fill="#2222fb"/>
<rect x="185.23" y="325.07" width="1.9" height="1.9" fill="#2222fb"/>
<rect x="201.01" y="320.13" width="1.9" height="1.9" fill="#2222fb"/>
<rect x="185.18" y="320.24" width="1.9" height="1.9" fill="#2222fb"/>
<rect x="199.25" y="320.84" width="1.9" height="1.9" fill="#2222fb"/>
<rect x="188.01" y="327.75" width="1.9" height="1.9" fill="#2222fb"/>
<rect x="186.29" y="327.95" width="1.9" height="1.9" fill="#2222fb"/>
<rect x="184.99" y="322.51" width="1.9" height="1.9" fill="#2222fb"/>
<rect x="185.54" y="322.43" width="1.9" height="1.9" fill="#2222fb"/>
<rect x="191.45" y="329.37" width="1.9" height="1.9" fill="#2222fb"/>
<rect x="186.71" y="326.56" width="1.9" height="1.9" fill="#2222fb"/>
<rect x="199.33" y="323.69" width="1.9" height="1.9" fill="#2222fb"/>
<rect x="192.93" y="330.74" width="1.9" height="1.9" fill="#2222fb"/>
<rect x="183.59" y="320.85" width="1.9" height="1.9" fill="#2222fb"/>
<rect x="187.38" y="314.47" width="1.9" height="1.9" fill="#2222fb"/>
<rect x="197.55" y="316.64" width="1.9" height="1.9" fill="#2222fb"/>
<rect x="187.79" y="330.87" width="1.9" height="1.9" fill="#2222fb"/>
<rect x="197.09" y="329.53" width="1.9" height="1.9" fill="#2222fb"/>
<rect x="187.93" y="316.68" width="1.9" height="1.9" fill="#2222fb"/>
<rect x="196.64" y="313.75" width="1.9" height="1.9" fill="#2222fb"/>
<rect x="186.09" y="315.59" width="1.9" height="1.9" fill="#2222fb"/>
<rect x="194.68" y="315.32" width="1.9" height="1.9" fill="#2222fb"/>
<rect x="184.23" y="321.30" width="1.9" height="1.9" fill="#2222fb"/>
<rect x="196.50" y="313.98" width="1.9" height="1.9" fill="#2222fb"/>
<rect x="195.81" y="314.35" width="1.9" height="1.9" fill="#2222fb"/>
<rect x="198.63" y="316.62" width="1.9" height="1.9" fill="#2222fb"/>
<rect x="189.56" y="314.95" width="1.9" height="1.9" fill="#2222fb"/>
<rect x="198.79" y="323.99" width="1.9" height="1.9" fill="#2222fb"/>
<rect x="187.70" y="327.87" width="1.9" height="1.9" fill="#2222fb"/>
<rect x="196.19" y="314.69" width="1.9" height="1.9" fill="#2222fb"/>
<ellipse cx="193" cy="323.6" rx="8.11" ry="7.80" fill="#1414f5"/>
<ellipse cx="193" cy="323.6" rx="6.24" ry="6.00" fill="#0a70f5"/>
<ellipse cx="193" cy="323.6" rx="5.41" ry="5.20" fill="#14ccea"/>
<ellipse cx="193" cy="323.6" rx="4.16" ry="4.00" fill="#35e04a"/>
<ellipse cx="193" cy="323.6" rx="3.02" ry="2.90" fill="#f0ee20"/>
<ellipse cx="193" cy="323.6" rx="2.08" ry="2.00" fill="#ff8a12"/>
<ellipse cx="193" cy="323.6" rx="1.35" ry="1.30" fill="#f01010"/>
<line x1="203.70" y1="230.60" x2="203.70" y2="342.30" stroke="#222" stroke-width="0.8" />
<line x1="174.60" y1="314.50" x2="287.00" y2="314.50" stroke="#222" stroke-width="0.8" />
<text x="178.60" y="239.00" font-size="7.2" text-anchor="start" fill="#2a2a2a" stroke="#2a2a2a" >0.1</text>
<text x="284.00" y="239.00" font-size="7.2" text-anchor="end" fill="#2a2a2a" stroke="#2a2a2a" >0.042</text>
<text x="178.00" y="339.70" font-size="7.2" text-anchor="start" fill="#2a2a2a" stroke="#2a2a2a" >99.7</text>
<text x="284.00" y="339.70" font-size="7.2" text-anchor="end" fill="#2a2a2a" stroke="#2a2a2a" >0.15</text>
<text x="60.00" y="224.90" font-size="11" text-anchor="start" fill="#0b0b84" stroke="#0b0b84" >MOCK</text>
<text x="177.40" y="225.00" font-size="11" text-anchor="start" fill="#860d86" stroke="#860d86" >VACC</text>
<line x1="46.90" y1="351.80" x2="46.90" y2="309.50" stroke="#222" stroke-width="0.6" />
<line x1="46.90" y1="351.80" x2="88.50" y2="351.80" stroke="#222" stroke-width="0.6" />
<path d="M46.9,305.8 L44.6,310.8 L49.2,310.8 Z" fill="#111"/>
<path d="M92.2,351.8 L87.2,349.5 L87.2,354.1 Z" fill="#111"/>
<text transform="translate(42.20,330.50) rotate(-90)" font-size="9.5" text-anchor="middle" stroke="#000">TNF&#945;</text>
<text x="52.70" y="361.80" font-size="9.5" text-anchor="start" fill="#000" stroke="#000" >IFN&#947;</text>
</svg>
</body>
</html>
